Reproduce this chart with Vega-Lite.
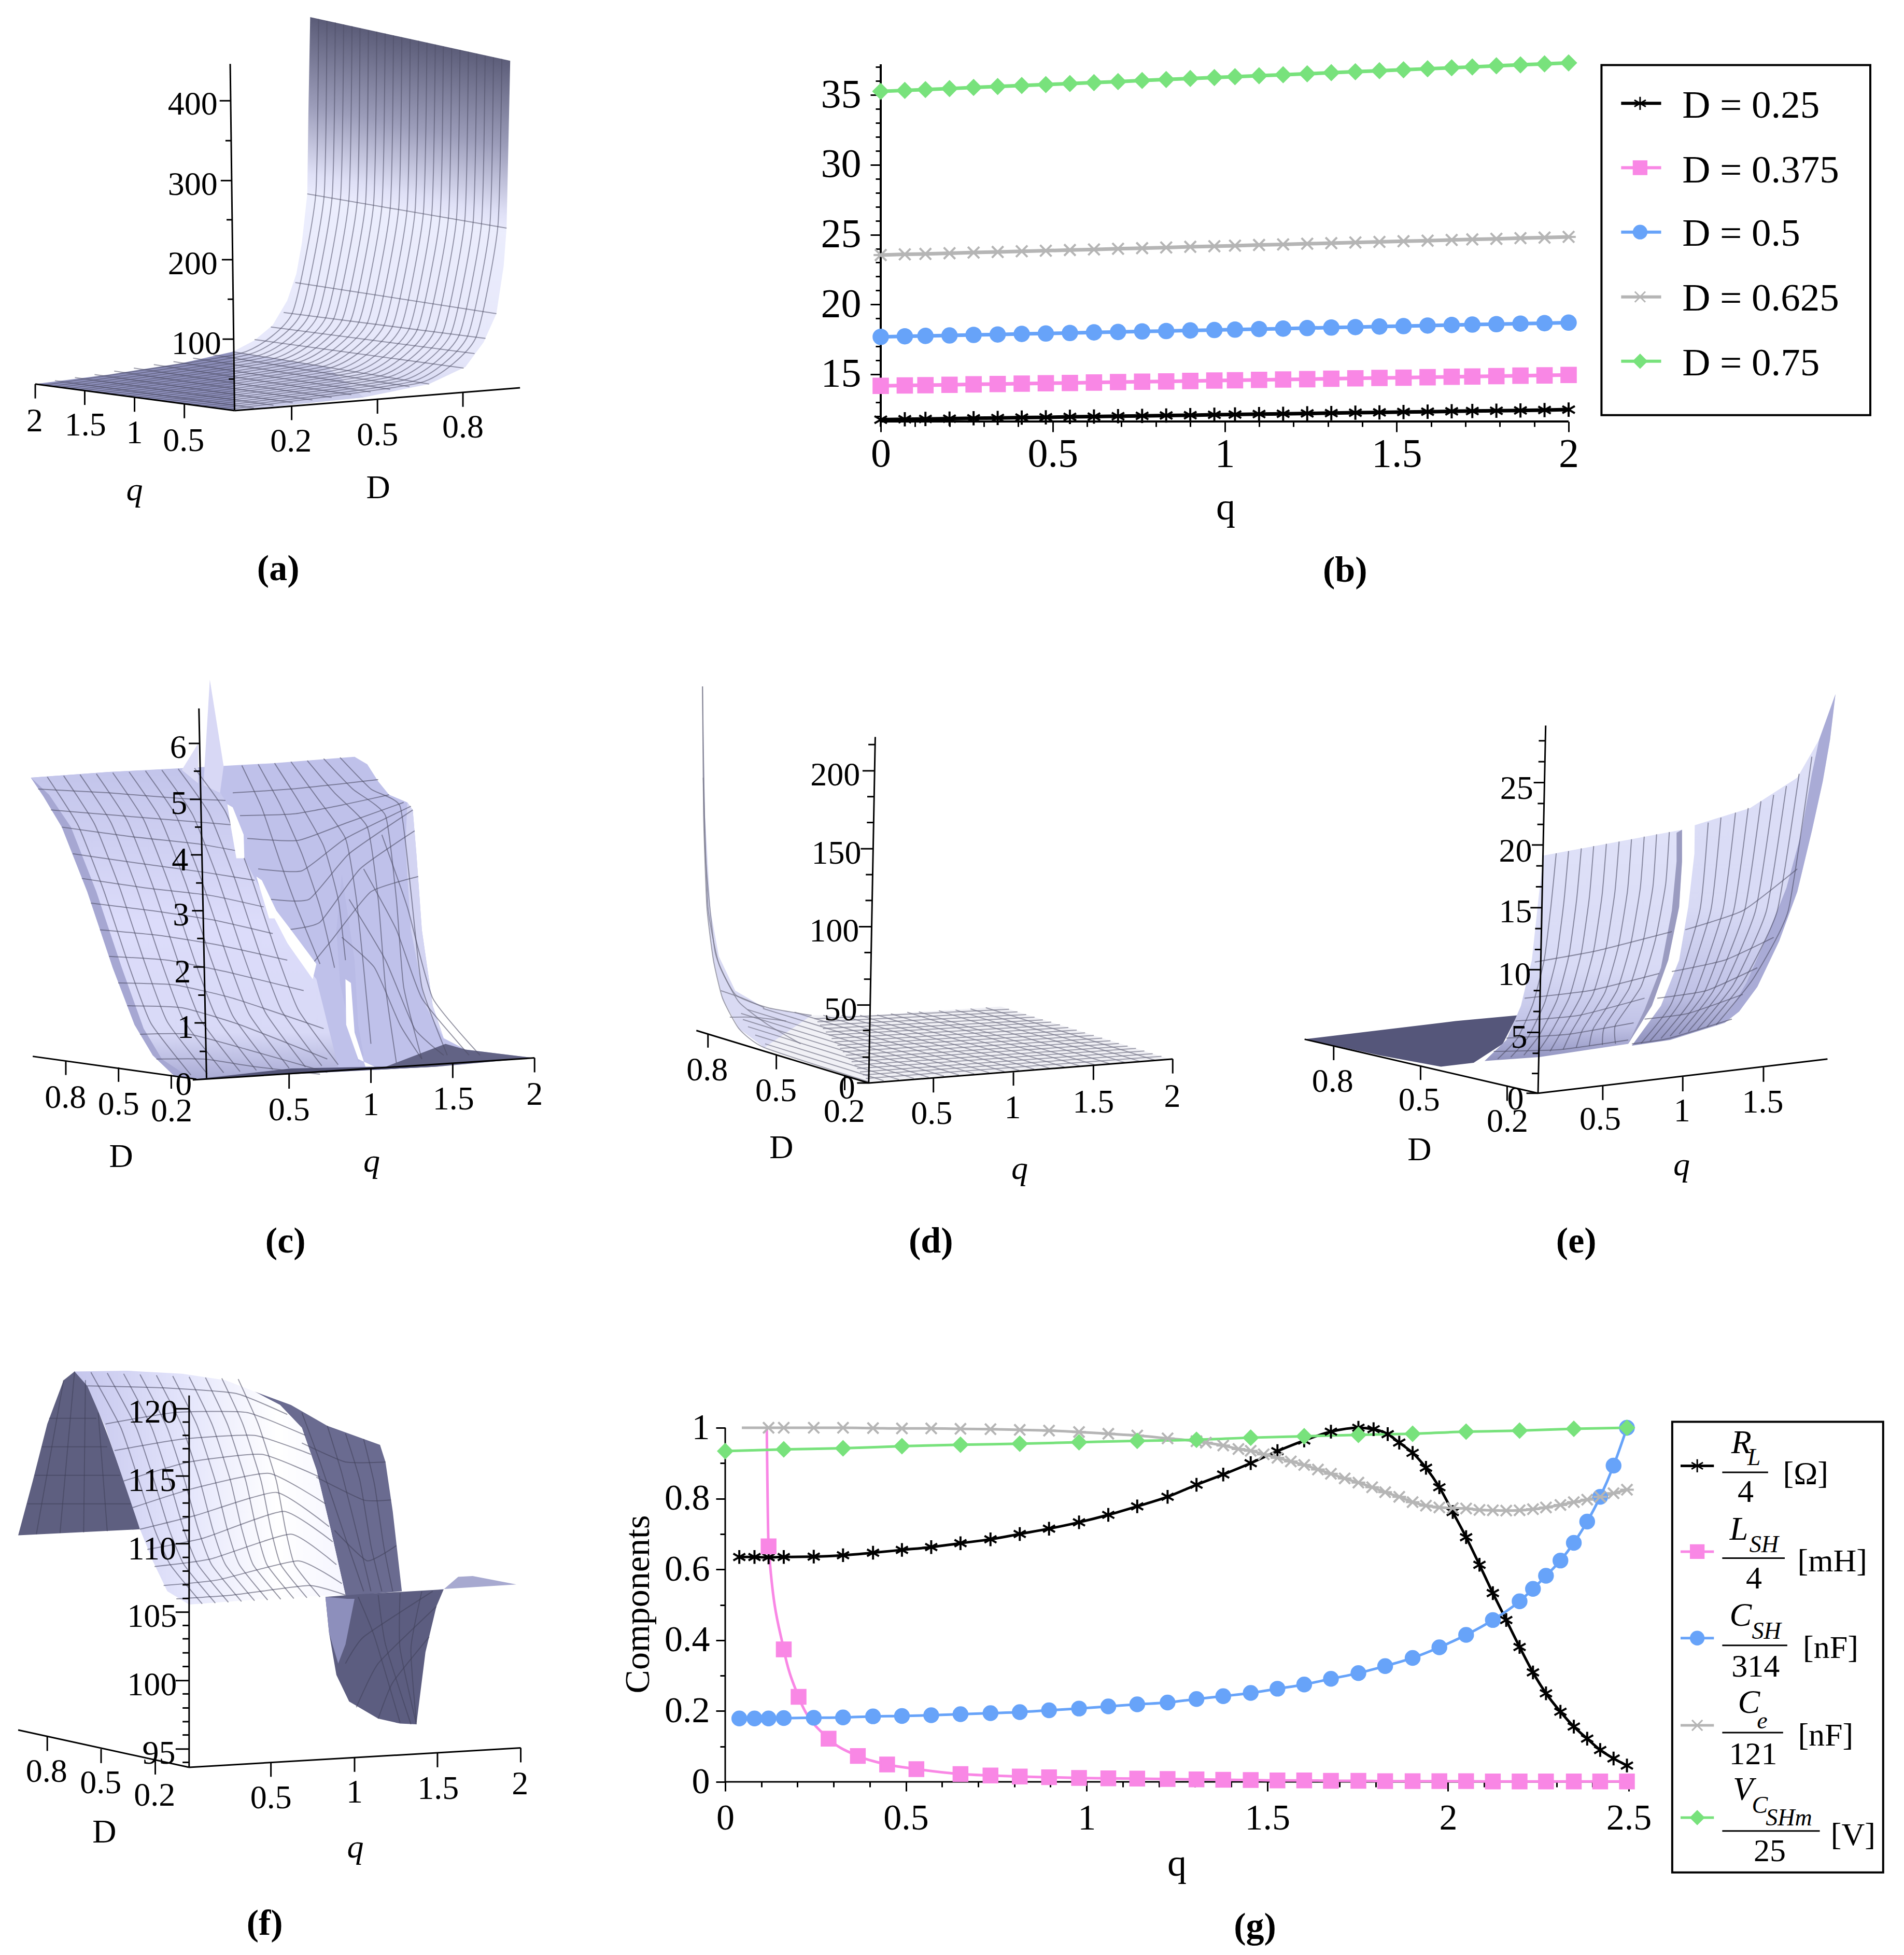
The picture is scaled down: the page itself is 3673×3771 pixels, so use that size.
{
"$schema":"https://vega.github.io/schema/vega-lite/v6.json",
"padding":0,"background":"white","columns":3,"spacing":0,"bounds":"flush","align":"none",
"config":{"font":"Liberation Serif","view":{"stroke":null},"text":{"baseline":"middle","align":"center","fontSize":64,"color":"black"}},
"resolve":{"scale":{"fill":"independent","stroke":"independent","shape":"independent"}},
"concat":[
{"width":1150,"height":1280,
"encoding":{"x":{"field":"h","type":"quantitative","scale":{"domain":[0,1639.3]},"axis":null},"y":{"field":"v","type":"quantitative","scale":{"domain":[1745.3,0]},"axis":null}},
"layer":[
{"data":{"values":[{"h":845,"v":510},{"h":1393,"v":600},{"h":1385,"v":700},{"h":1365,"v":825},{"h":1330,"v":900},{"h":1280,"v":965},{"h":1180,"v":1010},{"h":1000,"v":1045},{"h":800,"v":1065},{"h":645,"v":1080},{"h":640,"v":925},{"h":700,"v":895},{"h":750,"v":855},{"h":790,"v":790},{"h":815,"v":720},{"h":830,"v":640}]},
"mark":{"type":"line","strokeWidth":0,"stroke":"transparent","fill":{"gradient":"linear","x1":0,"y1":0,"x2":0,"y2":1,"stops":[{"offset":0,"color":"#eceefd"},{"offset":0.75,"color":"#e6e7fa"},{"offset":1,"color":"#cfd1ee"}]}},"encoding":{"order":{"value":null}}},
{"data":{"values":[{"h":853,"v":45},{"h":1403,"v":160},{"h":1393,"v":600},{"h":845,"v":510},{"h":848,"v":300}]},
"mark":{"type":"line","strokeWidth":0,"stroke":"transparent","fill":{"gradient":"linear","x1":0,"y1":0,"x2":-0.16,"y2":0.81,"stops":[{"offset":0,"color":"#5b5c78"},{"offset":0.5,"color":"#9c9dba"},{"offset":0.88,"color":"#dfe0f6"},{"offset":1,"color":"#ebecfd"}]}},"encoding":{"order":{"value":null}}},
{"data":{"values":[{"p":"f1","h":97,"v":1010},{"p":"f1","h":300,"v":985},{"p":"f1","h":500,"v":955},{"p":"f1","h":640,"v":925},{"p":"f1","h":645,"v":1080},{"p":"f2","h":640,"v":925},{"p":"f2","h":900,"v":965},{"p":"f2","h":1000,"v":1045},{"p":"f2","h":800,"v":1065},{"p":"f2","h":645,"v":1080}]},
"mark":{"type":"line","strokeWidth":0,"stroke":"transparent"},"encoding":{"fill":{"field":"p","type":"nominal","scale":{"domain":["f1","f2"],"range":["#8e90bc","#c9cbe9"]},"legend":null},"order":{"value":null}}},
{"data":{"values":[
{"p":1,"h":876,"v":50},{"p":1,"h":868,"v":514},{"p":1,"h":803,"v":825},{"p":1,"h":663,"v":929},{"p":1,"h":120,"v":1013},
{"p":2,"h":899,"v":55},{"p":2,"h":891,"v":518},{"p":2,"h":826,"v":828},{"p":2,"h":685,"v":932},{"p":2,"h":143,"v":1016},
{"p":3,"h":922,"v":59},{"p":3,"h":913,"v":521},{"p":3,"h":849,"v":831},{"p":3,"h":708,"v":936},{"p":3,"h":165,"v":1019},
{"p":4,"h":945,"v":64},{"p":4,"h":936,"v":525},{"p":4,"h":872,"v":834},{"p":4,"h":730,"v":939},{"p":4,"h":188,"v":1022},
{"p":5,"h":968,"v":69},{"p":5,"h":959,"v":529},{"p":5,"h":895,"v":837},{"p":5,"h":753,"v":943},{"p":5,"h":211,"v":1025},
{"p":6,"h":990,"v":74},{"p":6,"h":982,"v":533},{"p":6,"h":917,"v":840},{"p":6,"h":775,"v":946},{"p":6,"h":234,"v":1027},
{"p":7,"h":1013,"v":79},{"p":7,"h":1005,"v":536},{"p":7,"h":940,"v":843},{"p":7,"h":798,"v":950},{"p":7,"h":257,"v":1030},
{"p":8,"h":1036,"v":83},{"p":8,"h":1027,"v":540},{"p":8,"h":963,"v":846},{"p":8,"h":820,"v":953},{"p":8,"h":279,"v":1033},
{"p":9,"h":1059,"v":88},{"p":9,"h":1050,"v":544},{"p":9,"h":986,"v":849},{"p":9,"h":843,"v":957},{"p":9,"h":302,"v":1036},
{"p":10,"h":1082,"v":93},{"p":10,"h":1073,"v":548},{"p":10,"h":1009,"v":852},{"p":10,"h":865,"v":960},{"p":10,"h":325,"v":1039},
{"p":11,"h":1105,"v":98},{"p":11,"h":1096,"v":551},{"p":11,"h":1032,"v":855},{"p":11,"h":888,"v":964},{"p":11,"h":348,"v":1042},
{"p":12,"h":1128,"v":103},{"p":12,"h":1119,"v":555},{"p":12,"h":1055,"v":858},{"p":12,"h":910,"v":967},{"p":12,"h":371,"v":1045},
{"p":13,"h":1151,"v":107},{"p":13,"h":1141,"v":559},{"p":13,"h":1078,"v":861},{"p":13,"h":933,"v":971},{"p":13,"h":393,"v":1048},
{"p":14,"h":1174,"v":112},{"p":14,"h":1164,"v":563},{"p":14,"h":1101,"v":864},{"p":14,"h":955,"v":975},{"p":14,"h":416,"v":1051},
{"p":15,"h":1197,"v":117},{"p":15,"h":1187,"v":566},{"p":15,"h":1124,"v":867},{"p":15,"h":978,"v":978},{"p":15,"h":439,"v":1054},
{"p":16,"h":1219,"v":122},{"p":16,"h":1210,"v":570},{"p":16,"h":1146,"v":870},{"p":16,"h":1000,"v":982},{"p":16,"h":462,"v":1056},
{"p":17,"h":1242,"v":127},{"p":17,"h":1233,"v":574},{"p":17,"h":1169,"v":873},{"p":17,"h":1023,"v":985},{"p":17,"h":485,"v":1059},
{"p":18,"h":1265,"v":131},{"p":18,"h":1255,"v":578},{"p":18,"h":1192,"v":876},{"p":18,"h":1045,"v":989},{"p":18,"h":507,"v":1062},
{"p":19,"h":1288,"v":136},{"p":19,"h":1278,"v":581},{"p":19,"h":1215,"v":879},{"p":19,"h":1068,"v":992},{"p":19,"h":530,"v":1065},
{"p":20,"h":1311,"v":141},{"p":20,"h":1301,"v":585},{"p":20,"h":1238,"v":882},{"p":20,"h":1090,"v":996},{"p":20,"h":553,"v":1068},
{"p":21,"h":1334,"v":146},{"p":21,"h":1324,"v":589},{"p":21,"h":1261,"v":885},{"p":21,"h":1113,"v":999},{"p":21,"h":576,"v":1071},
{"p":22,"h":1357,"v":151},{"p":22,"h":1347,"v":593},{"p":22,"h":1284,"v":888},{"p":22,"h":1135,"v":1003},{"p":22,"h":599,"v":1074},
{"p":23,"h":1380,"v":155},{"p":23,"h":1369,"v":596},{"p":23,"h":1307,"v":891},{"p":23,"h":1158,"v":1006},{"p":23,"h":621,"v":1077},
{"p":30,"h":845,"v":510},{"p":30,"h":1393,"v":600},{"p":31,"h":812,"v":743},{"p":31,"h":1365,"v":825},{"p":32,"h":780,"v":822},{"p":32,"h":1335,"v":890},{"p":33,"h":745,"v":860},{"p":33,"h":1305,"v":930},{"p":34,"h":700,"v":893},{"p":34,"h":1275,"v":968},{"p":35,"h":640,"v":925},{"p":35,"h":1180,"v":1010},
{"p":36,"h":151,"v":1001},{"p":36,"h":698,"v":1073},{"p":37,"h":206,"v":993},{"p":37,"h":752,"v":1066},{"p":38,"h":260,"v":985},{"p":38,"h":805,"v":1059},{"p":39,"h":314,"v":976},{"p":39,"h":859,"v":1052},{"p":40,"h":368,"v":968},{"p":40,"h":912,"v":1045},{"p":41,"h":423,"v":959},{"p":41,"h":966,"v":1038},{"p":42,"h":477,"v":951},{"p":42,"h":1019,"v":1031},{"p":43,"h":531,"v":942},{"p":43,"h":1073,"v":1024},{"p":44,"h":586,"v":933},{"p":44,"h":1126,"v":1017}
]},"mark":{"type":"line","stroke":"#4f4f66","strokeWidth":2,"opacity":0.55,"interpolate":"cardinal","tension":0.5},"encoding":{"detail":{"field":"p","type":"nominal"},"order":{"value":null}}},
{"data":{"values":[{"h":633,"v":168,"h2":645,"v2":1080},{"h":634,"v":265,"h2":604,"v2":265},{"h":637,"v":475,"h2":607,"v2":475},{"h":640,"v":683,"h2":610,"v2":683},{"h":642,"v":892,"h2":612,"v2":892},{"h":635,"v":370,"h2":620,"v2":370},{"h":638,"v":578,"h2":623,"v2":578},{"h":641,"v":787,"h2":626,"v2":787},{"h":644,"v":997,"h2":629,"v2":997},{"h":97,"v":1010,"h2":645,"v2":1080},{"h":97,"v":1010,"h2":97,"v2":1048},{"h":233,"v":1028,"h2":233,"v2":1065},{"h":370,"v":1045,"h2":370,"v2":1083},{"h":507,"v":1063,"h2":507,"v2":1100},{"h":645,"v":1080,"h2":1430,"v2":1020},{"h":802,"v":1068,"h2":802,"v2":1105},{"h":1038,"v":1050,"h2":1038,"v2":1088},{"h":1273,"v":1032,"h2":1273,"v2":1070}]},
"mark":{"type":"rule","color":"black","strokeWidth":3},"encoding":{"x2":{"field":"h2"},"y2":{"field":"v2"}}},
{"data":{"values":[{"t":"400","h":530,"v":275},{"t":"300","h":530,"v":487},{"t":"200","h":530,"v":695},{"t":"100","h":540,"v":905},{"t":"2","h":95,"v":1108},{"t":"1.5","h":235,"v":1120},{"t":"1","h":370,"v":1140},{"t":"0.5","h":505,"v":1160},{"t":"0.2","h":800,"v":1162},{"t":"0.5","h":1038,"v":1145},{"t":"0.8","h":1273,"v":1125},{"t":"D","h":1040,"v":1285}]},"mark":{"type":"text"},"encoding":{"text":{"field":"t"}}},
{"data":{"values":[{"t":"q","h":370,"v":1290}]},"mark":{"type":"text","fontStyle":"italic"},"encoding":{"text":{"field":"t"}}},
{"data":{"values":[{"t":"(a)","h":765,"v":1497}]},"mark":{"type":"text","fontWeight":"bold","fontSize":70},"encoding":{"text":{"field":"t"}}}
]},
{"width":2100,"height":1280,
"encoding":{"x":{"field":"q","type":"quantitative","scale":{"domain":[-0.82743,2.3376]},"axis":{"title":"q","orient":"bottom","offset":-467,"domain":false,"grid":false,"values":[0,0.1,0.2,0.3,0.4,0.5,0.6,0.7,0.8,0.9,1,1.1,1.2,1.3,1.4,1.5,1.6,1.7,1.8,1.9,2],"labelExpr":"abs(datum.value*2-round(datum.value*2))<0.001 ? ''+datum.value : ''","tickSize":{"condition":{"test":"abs(datum.value*2-round(datum.value*2))<0.001","value":20},"value":10},"tickColor":"black","tickWidth":3,"labelColor":"black","labelFontSize":78,"labelPadding":4,"labelOverlap":false,"labelFlush":false,"labelBound":false,"titleFontSize":74,"titleFontWeight":"normal","titleColor":"black","titleX":1214,"titleY":130}},
"y":{"field":"v","type":"quantitative","scale":{"domain":[-5.718,41.804]},"axis":{"title":null,"orient":"left","offset":-549,"domain":false,"grid":false,"values":[12,13,14,15,16,17,18,19,20,21,22,23,24,25,26,27,28,29,30,31,32,33,34,35,36,37],"labelExpr":"datum.value%5==0 ? ''+datum.value : ''","tickSize":{"condition":{"test":"datum.value%5==0","value":20},"value":10},"tickColor":"black","tickWidth":3,"labelColor":"black","labelFontSize":78,"labelPadding":18,"labelOverlap":false,"labelBound":false}}},
"layer":[
{"data":{"values":[{"q":0,"v":11.62,"q2":2,"v2":11.62},{"q":0,"v":11.62,"q2":0,"v2":37.2}]},"mark":{"type":"rule","color":"black","strokeWidth":4},"encoding":{"x2":{"field":"q2"},"y2":{"field":"v2"}}},
{"data":{"name":"bdata","values":[
{"D":0.25,"q":0,"v":11.75},{"D":0.25,"q":0.07,"v":11.78},{"D":0.25,"q":0.13,"v":11.8},{"D":0.25,"q":0.2,"v":11.82},{"D":0.25,"q":0.27,"v":11.85},{"D":0.25,"q":0.34,"v":11.87},{"D":0.25,"q":0.41,"v":11.9},{"D":0.25,"q":0.48,"v":11.92},{"D":0.25,"q":0.55,"v":11.95},{"D":0.25,"q":0.62,"v":11.97},{"D":0.25,"q":0.69,"v":12},{"D":0.25,"q":0.76,"v":12.02},{"D":0.25,"q":0.83,"v":12.05},{"D":0.25,"q":0.9,"v":12.07},{"D":0.25,"q":0.97,"v":12.1},{"D":0.25,"q":1.03,"v":12.12},{"D":0.25,"q":1.1,"v":12.15},{"D":0.25,"q":1.17,"v":12.17},{"D":0.25,"q":1.24,"v":12.2},{"D":0.25,"q":1.31,"v":12.22},{"D":0.25,"q":1.38,"v":12.25},{"D":0.25,"q":1.45,"v":12.27},{"D":0.25,"q":1.52,"v":12.3},{"D":0.25,"q":1.59,"v":12.32},{"D":0.25,"q":1.66,"v":12.35},{"D":0.25,"q":1.72,"v":12.37},{"D":0.25,"q":1.79,"v":12.39},{"D":0.25,"q":1.86,"v":12.41},{"D":0.25,"q":1.93,"v":12.44},{"D":0.25,"q":2,"v":12.47},
{"D":0.375,"q":0,"v":14.17},{"D":0.375,"q":0.07,"v":14.2},{"D":0.375,"q":0.13,"v":14.22},{"D":0.375,"q":0.2,"v":14.25},{"D":0.375,"q":0.27,"v":14.28},{"D":0.375,"q":0.34,"v":14.3},{"D":0.375,"q":0.41,"v":14.33},{"D":0.375,"q":0.48,"v":14.36},{"D":0.375,"q":0.55,"v":14.38},{"D":0.375,"q":0.62,"v":14.41},{"D":0.375,"q":0.69,"v":14.44},{"D":0.375,"q":0.76,"v":14.47},{"D":0.375,"q":0.83,"v":14.49},{"D":0.375,"q":0.9,"v":14.52},{"D":0.375,"q":0.97,"v":14.55},{"D":0.375,"q":1.03,"v":14.57},{"D":0.375,"q":1.1,"v":14.6},{"D":0.375,"q":1.17,"v":14.63},{"D":0.375,"q":1.24,"v":14.65},{"D":0.375,"q":1.31,"v":14.68},{"D":0.375,"q":1.38,"v":14.71},{"D":0.375,"q":1.45,"v":14.74},{"D":0.375,"q":1.52,"v":14.76},{"D":0.375,"q":1.59,"v":14.79},{"D":0.375,"q":1.66,"v":14.82},{"D":0.375,"q":1.72,"v":14.84},{"D":0.375,"q":1.79,"v":14.87},{"D":0.375,"q":1.86,"v":14.9},{"D":0.375,"q":1.93,"v":14.92},{"D":0.375,"q":2,"v":14.95},
{"D":0.5,"q":0,"v":17.68},{"D":0.5,"q":0.07,"v":17.72},{"D":0.5,"q":0.13,"v":17.75},{"D":0.5,"q":0.2,"v":17.78},{"D":0.5,"q":0.27,"v":17.82},{"D":0.5,"q":0.34,"v":17.85},{"D":0.5,"q":0.41,"v":17.89},{"D":0.5,"q":0.48,"v":17.92},{"D":0.5,"q":0.55,"v":17.96},{"D":0.5,"q":0.62,"v":18},{"D":0.5,"q":0.69,"v":18.03},{"D":0.5,"q":0.76,"v":18.07},{"D":0.5,"q":0.83,"v":18.1},{"D":0.5,"q":0.9,"v":18.14},{"D":0.5,"q":0.97,"v":18.17},{"D":0.5,"q":1.03,"v":18.2},{"D":0.5,"q":1.1,"v":18.24},{"D":0.5,"q":1.17,"v":18.27},{"D":0.5,"q":1.24,"v":18.31},{"D":0.5,"q":1.31,"v":18.35},{"D":0.5,"q":1.38,"v":18.38},{"D":0.5,"q":1.45,"v":18.42},{"D":0.5,"q":1.52,"v":18.45},{"D":0.5,"q":1.59,"v":18.49},{"D":0.5,"q":1.66,"v":18.53},{"D":0.5,"q":1.72,"v":18.56},{"D":0.5,"q":1.79,"v":18.59},{"D":0.5,"q":1.86,"v":18.63},{"D":0.5,"q":1.93,"v":18.66},{"D":0.5,"q":2,"v":18.7},
{"D":0.625,"q":0,"v":23.54},{"D":0.625,"q":0.07,"v":23.59},{"D":0.625,"q":0.13,"v":23.62},{"D":0.625,"q":0.2,"v":23.67},{"D":0.625,"q":0.27,"v":23.72},{"D":0.625,"q":0.34,"v":23.76},{"D":0.625,"q":0.41,"v":23.81},{"D":0.625,"q":0.48,"v":23.85},{"D":0.625,"q":0.55,"v":23.9},{"D":0.625,"q":0.62,"v":23.94},{"D":0.625,"q":0.69,"v":23.99},{"D":0.625,"q":0.76,"v":24.03},{"D":0.625,"q":0.83,"v":24.08},{"D":0.625,"q":0.9,"v":24.13},{"D":0.625,"q":0.97,"v":24.17},{"D":0.625,"q":1.03,"v":24.21},{"D":0.625,"q":1.1,"v":24.26},{"D":0.625,"q":1.17,"v":24.3},{"D":0.625,"q":1.24,"v":24.35},{"D":0.625,"q":1.31,"v":24.39},{"D":0.625,"q":1.38,"v":24.44},{"D":0.625,"q":1.45,"v":24.48},{"D":0.625,"q":1.52,"v":24.53},{"D":0.625,"q":1.59,"v":24.57},{"D":0.625,"q":1.66,"v":24.62},{"D":0.625,"q":1.72,"v":24.66},{"D":0.625,"q":1.79,"v":24.7},{"D":0.625,"q":1.86,"v":24.75},{"D":0.625,"q":1.93,"v":24.79},{"D":0.625,"q":2,"v":24.84},
{"D":0.75,"q":0,"v":35.26},{"D":0.75,"q":0.07,"v":35.33},{"D":0.75,"q":0.13,"v":35.39},{"D":0.75,"q":0.2,"v":35.46},{"D":0.75,"q":0.27,"v":35.54},{"D":0.75,"q":0.34,"v":35.61},{"D":0.75,"q":0.41,"v":35.68},{"D":0.75,"q":0.48,"v":35.75},{"D":0.75,"q":0.55,"v":35.82},{"D":0.75,"q":0.62,"v":35.89},{"D":0.75,"q":0.69,"v":35.96},{"D":0.75,"q":0.76,"v":36.04},{"D":0.75,"q":0.83,"v":36.11},{"D":0.75,"q":0.9,"v":36.18},{"D":0.75,"q":0.97,"v":36.25},{"D":0.75,"q":1.03,"v":36.31},{"D":0.75,"q":1.1,"v":36.38},{"D":0.75,"q":1.17,"v":36.45},{"D":0.75,"q":1.24,"v":36.52},{"D":0.75,"q":1.31,"v":36.6},{"D":0.75,"q":1.38,"v":36.67},{"D":0.75,"q":1.45,"v":36.74},{"D":0.75,"q":1.52,"v":36.81},{"D":0.75,"q":1.59,"v":36.88},{"D":0.75,"q":1.66,"v":36.95},{"D":0.75,"q":1.72,"v":37.01},{"D":0.75,"q":1.79,"v":37.09},{"D":0.75,"q":1.86,"v":37.16},{"D":0.75,"q":1.93,"v":37.23},{"D":0.75,"q":2,"v":37.3}
]},"mark":{"type":"line","strokeWidth":7},"encoding":{"stroke":{"field":"D","type":"nominal","scale":{"domain":[0.25,0.375,0.5,0.625,0.75],"range":["#000000","#f987e5","#67a3f9","#b5b5b5","#78e27c"]},"legend":null}}},
{"data":{"name":"bdata"},"mark":{"type":"point","filled":true,"size":760,"strokeWidth":4,"opacity":1},"encoding":{"fill":{"field":"D","type":"nominal","scale":{"domain":[0.25,0.375,0.5,0.625,0.75],"range":["#000000","#f987e5","#67a3f9","#b5b5b5","#78e27c"]},"legend":null},"stroke":{"field":"D","type":"nominal","scale":{"domain":[0.25,0.375,0.5,0.625,0.75],"range":["#000000","#f987e5","#67a3f9","#b5b5b5","#78e27c"]},"legend":null},"shape":{"field":"D","type":"nominal","scale":{"domain":[0.25,0.375,0.5,0.625,0.75],"range":["M0,-1L0,1M-0.87,-0.5L0.87,0.5M-0.87,0.5L0.87,-0.5","square","circle","M-0.8,-0.8L0.8,0.8M-0.8,0.8L0.8,-0.8M-1,0L1,0","diamond"]},"legend":null}}},
{"data":{"values":[{"t":"(b)","q":1.35,"v":0.93}]},"mark":{"type":"text","fontWeight":"bold","fontSize":70},"encoding":{"text":{"field":"t"}}}
]},
{"width":423,"height":1280,
"encoding":{"x":{"field":"h","type":"quantitative","scale":{"domain":[1255.6,1568]},"axis":null},"y":{"field":"v","type":"quantitative","scale":{"domain":[1753,-71]},"axis":null}},
"layer":[
{"data":{"values":[{"h":1137,"h2":1520,"v":108,"v2":1070}]},"mark":{"type":"rect","fill":"white","stroke":"black","strokeWidth":4},"encoding":{"x2":{"field":"h2"},"y2":{"field":"v2"}}},
{"data":{"values":[{"D":0.25,"h":1165,"h2":1222,"v":213},{"D":0.375,"h":1165,"h2":1222,"v":390},{"D":0.5,"h":1165,"h2":1222,"v":567},{"D":0.625,"h":1165,"h2":1222,"v":745},{"D":0.75,"h":1165,"h2":1222,"v":922}]},"mark":{"type":"rule","strokeWidth":6},"encoding":{"x2":{"field":"h2"},"stroke":{"field":"D","type":"nominal","scale":{"domain":[0.25,0.375,0.5,0.625,0.75],"range":["#000000","#f987e5","#67a3f9","#b5b5b5","#78e27c"]},"legend":null}}},
{"data":{"values":[{"D":0.25,"h":1192,"v":213},{"D":0.375,"h":1192,"v":390},{"D":0.5,"h":1192,"v":567},{"D":0.625,"h":1192,"v":745},{"D":0.75,"h":1192,"v":922}]},"mark":{"type":"point","filled":true,"size":640,"strokeWidth":3,"opacity":1},"encoding":{"fill":{"field":"D","type":"nominal","scale":{"domain":[0.25,0.375,0.5,0.625,0.75],"range":["#000000","#f987e5","#67a3f9","#b5b5b5","#78e27c"]},"legend":null},"stroke":{"field":"D","type":"nominal","scale":{"domain":[0.25,0.375,0.5,0.625,0.75],"range":["#000000","#f987e5","#67a3f9","#b5b5b5","#78e27c"]},"legend":null},"shape":{"field":"D","type":"nominal","scale":{"domain":[0.25,0.375,0.5,0.625,0.75],"range":["M0,-1L0,1M-0.87,-0.5L0.87,0.5M-0.87,0.5L0.87,-0.5","square","circle","M-0.8,-0.8L0.8,0.8M-0.8,0.8L0.8,-0.8M-1,0L1,0","diamond"]},"legend":null}}},
{"data":{"values":[{"t":"D = 0.25","h":1252,"v":220},{"t":"D = 0.375","h":1252,"v":398},{"t":"D = 0.5","h":1252,"v":572},{"t":"D = 0.625","h":1252,"v":750},{"t":"D = 0.75","h":1252,"v":928}]},"mark":{"type":"text","align":"left","fontSize":75},"encoding":{"text":{"field":"t"}}}
]},
{"width":1150,"height":1320,
"encoding":{"x":{"field":"h","type":"quantitative","scale":{"domain":[0,1639.3]},"axis":null},"y":{"field":"v","type":"quantitative","scale":{"domain":[1799.8,0]},"axis":null}},
"layer":[
{"data":{"values":[
{"p":"b","h":85,"v":300},{"p":"b","h":300,"v":285},{"p":"b","h":500,"v":275},{"p":"b","h":750,"v":262},{"p":"b","h":975,"v":245},{"p":"b","h":1010,"v":265},{"p":"b","h":1040,"v":310},{"p":"b","h":1070,"v":345},{"p":"b","h":1120,"v":365},{"p":"b","h":1135,"v":385},{"p":"b","h":1145,"v":500},{"p":"b","h":1160,"v":700},{"p":"b","h":1190,"v":900},{"p":"b","h":1220,"v":985},{"p":"b","h":1280,"v":1015},{"p":"b","h":1465,"v":1037},{"p":"b","h":1200,"v":1060},{"p":"b","h":800,"v":1080},{"p":"b","h":540,"v":1093},{"p":"b","h":480,"v":1085},{"p":"b","h":420,"v":1030},{"p":"b","h":370,"v":950},{"p":"b","h":310,"v":800},{"p":"b","h":240,"v":600},{"p":"b","h":170,"v":430},{"p":"b","h":120,"v":350}
]},"mark":{"type":"line","strokeWidth":0,"stroke":"transparent","fill":"#bfc1ea"},"encoding":{"order":{"value":null}}},
{"data":{"values":[
{"h":85,"v":300},{"h":300,"v":285},{"h":520,"v":275},{"h":600,"v":330},{"h":625,"v":370},{"h":670,"v":510},{"h":720,"v":600},{"h":790,"v":735},{"h":870,"v":830},{"h":930,"v":1060},{"h":540,"v":1093},{"h":480,"v":1085},{"h":420,"v":1030},{"h":370,"v":950},{"h":310,"v":800},{"h":240,"v":600},{"h":170,"v":430},{"h":120,"v":350}
]},"mark":{"type":"line","strokeWidth":0,"stroke":"transparent","fill":{"gradient":"linear","x1":0,"y1":0,"x2":0,"y2":1,"stops":[{"offset":0,"color":"#c2c4ea"},{"offset":0.5,"color":"#dcdcfa"},{"offset":0.85,"color":"#d8d9f6"},{"offset":1,"color":"#a9abd4"}]}},"encoding":{"order":{"value":null}}},
{"data":{"values":[
{"p":"s","h":85,"v":300},{"p":"s","h":120,"v":350},{"p":"s","h":170,"v":430},{"p":"s","h":240,"v":600},{"p":"s","h":310,"v":800},{"p":"s","h":370,"v":950},{"p":"s","h":420,"v":1030},{"p":"s","h":480,"v":1085},{"p":"s","h":540,"v":1093},{"p":"s","h":500,"v":1075},{"p":"s","h":445,"v":1040},{"p":"s","h":395,"v":960},{"p":"s","h":335,"v":800},{"p":"s","h":265,"v":600},{"p":"s","h":195,"v":430},{"p":"s","h":135,"v":345},
{"p":"r","h":1135,"v":385},{"p":"r","h":1145,"v":500},{"p":"r","h":1160,"v":700},{"p":"r","h":1190,"v":900},{"p":"r","h":1220,"v":985},{"p":"r","h":1170,"v":900},{"p":"r","h":1130,"v":700},{"p":"r","h":1115,"v":480},{"p":"r","h":1120,"v":365},
{"p":"d","h":1225,"v":1000},{"p":"d","h":1280,"v":1015},{"p":"d","h":1465,"v":1037},{"p":"d","h":1200,"v":1060},{"p":"d","h":1040,"v":1068},
{"p":"l","h":540,"v":1093},{"p":"l","h":800,"v":1065},{"p":"l","h":1040,"v":1060},{"p":"l","h":1200,"v":1060},{"p":"l","h":800,"v":1080},
{"p":"k1","h":560,"v":310},{"p":"k1","h":577,"v":42},{"p":"k1","h":615,"v":270},{"p":"k1","h":605,"v":340},{"p":"k1","h":560,"v":320},
{"p":"k2","h":545,"v":210},{"p":"k2","h":500,"v":280},{"p":"k2","h":545,"v":315},
{"p":"k3","h":940,"v":555},{"p":"k3","h":975,"v":780},{"p":"k3","h":985,"v":950},{"p":"k3","h":1000,"v":1030},{"p":"k3","h":985,"v":1050},{"p":"k3","h":960,"v":950},{"p":"k3","h":935,"v":840},{"p":"k3","h":925,"v":700}
]},"mark":{"type":"line","strokeWidth":0,"stroke":"transparent"},"encoding":{"fill":{"field":"p","type":"nominal","scale":{"domain":["s","r","d","l","k1","k2","k3"],"range":["#a6a7d2","#d3d4f2","#626385","#555679","#d8d8f5","#dcdcf6","#b9bbe6"]},"legend":null},"order":{"value":null}}},
{"data":{"values":[
{"p":1,"h":130,"v":298},{"p":1,"h":215,"v":426},{"p":1,"h":285,"v":596},{"p":1,"h":355,"v":796},{"p":1,"h":415,"v":946},{"p":1,"h":525,"v":1082},
{"p":2,"h":175,"v":295},{"p":2,"h":260,"v":422},{"p":2,"h":330,"v":592},{"p":2,"h":400,"v":792},{"p":2,"h":460,"v":942},{"p":2,"h":570,"v":1079},
{"p":3,"h":220,"v":292},{"p":3,"h":305,"v":418},{"p":3,"h":375,"v":588},{"p":3,"h":445,"v":788},{"p":3,"h":505,"v":938},{"p":3,"h":615,"v":1076},
{"p":4,"h":265,"v":290},{"p":4,"h":350,"v":414},{"p":4,"h":420,"v":584},{"p":4,"h":490,"v":784},{"p":4,"h":550,"v":934},{"p":4,"h":660,"v":1073},
{"p":5,"h":310,"v":287},{"p":5,"h":395,"v":410},{"p":5,"h":465,"v":580},{"p":5,"h":535,"v":780},{"p":5,"h":595,"v":930},{"p":5,"h":705,"v":1070},
{"p":6,"h":355,"v":285},{"p":6,"h":440,"v":406},{"p":6,"h":510,"v":576},{"p":6,"h":580,"v":776},{"p":6,"h":640,"v":926},{"p":6,"h":750,"v":1067},
{"p":7,"h":400,"v":282},{"p":7,"h":485,"v":402},{"p":7,"h":555,"v":572},{"p":7,"h":625,"v":772},{"p":7,"h":685,"v":922},{"p":7,"h":795,"v":1064},
{"p":8,"h":445,"v":280},{"p":8,"h":530,"v":398},{"p":8,"h":600,"v":568},{"p":8,"h":670,"v":768},{"p":8,"h":730,"v":918},{"p":8,"h":840,"v":1061},
{"p":9,"h":490,"v":277},{"p":9,"h":575,"v":394},{"p":9,"h":645,"v":564},{"p":9,"h":715,"v":764},{"p":9,"h":775,"v":914},{"p":9,"h":885,"v":1058},
{"p":10,"h":535,"v":275},{"p":10,"h":620,"v":390},{"p":10,"h":690,"v":560},{"p":10,"h":760,"v":760},{"p":10,"h":820,"v":910},{"p":10,"h":930,"v":1055},
{"p":11,"h":105,"v":330},{"p":11,"h":300,"v":340},{"p":11,"h":500,"v":355},{"p":11,"h":620,"v":360},
{"p":12,"h":140,"v":385},{"p":12,"h":330,"v":400},{"p":12,"h":520,"v":415},{"p":12,"h":650,"v":425},
{"p":13,"h":170,"v":430},{"p":13,"h":360,"v":455},{"p":13,"h":550,"v":475},{"p":13,"h":665,"v":495},
{"p":14,"h":200,"v":500},{"p":14,"h":380,"v":525},{"p":14,"h":570,"v":550},{"p":14,"h":700,"v":570},
{"p":15,"h":225,"v":565},{"p":15,"h":400,"v":590},{"p":15,"h":580,"v":610},{"p":15,"h":725,"v":640},
{"p":16,"h":250,"v":630},{"p":16,"h":420,"v":650},{"p":16,"h":590,"v":675},{"p":16,"h":750,"v":710},
{"p":17,"h":275,"v":700},{"p":17,"h":440,"v":715},{"p":17,"h":600,"v":740},{"p":17,"h":790,"v":780},
{"p":18,"h":300,"v":770},{"p":18,"h":460,"v":780},{"p":18,"h":620,"v":810},{"p":18,"h":835,"v":860},
{"p":19,"h":325,"v":840},{"p":19,"h":480,"v":845},{"p":19,"h":640,"v":880},{"p":19,"h":890,"v":960},
{"p":20,"h":350,"v":900},{"p":20,"h":500,"v":905},{"p":20,"h":660,"v":950},{"p":20,"h":900,"v":1040},
{"p":21,"h":385,"v":975},{"p":21,"h":520,"v":975},{"p":21,"h":680,"v":1015},{"p":21,"h":900,"v":1075},
{"p":22,"h":430,"v":1040},{"p":22,"h":560,"v":1040},{"p":22,"h":700,"v":1060},{"p":22,"h":880,"v":1080},
{"p":23,"h":665,"v":268},{"p":23,"h":720,"v":380},{"p":23,"h":770,"v":520},{"p":23,"h":820,"v":650},{"p":23,"h":880,"v":790},
{"p":24,"h":710,"v":265},{"p":24,"h":770,"v":370},{"p":24,"h":830,"v":500},{"p":24,"h":880,"v":640},{"p":24,"h":920,"v":800},
{"p":25,"h":755,"v":262},{"p":25,"h":820,"v":360},{"p":25,"h":890,"v":480},{"p":25,"h":930,"v":620},{"p":25,"h":950,"v":780},
{"p":26,"h":800,"v":258},{"p":26,"h":870,"v":350},{"p":26,"h":950,"v":460},{"p":26,"h":980,"v":620},{"p":26,"h":1000,"v":800},{"p":26,"h":1020,"v":1000},
{"p":27,"h":845,"v":255},{"p":27,"h":920,"v":340},{"p":27,"h":1010,"v":430},{"p":27,"h":1040,"v":620},{"p":27,"h":1060,"v":850},{"p":27,"h":1090,"v":1050},
{"p":28,"h":890,"v":250},{"p":28,"h":970,"v":330},{"p":28,"h":1060,"v":400},{"p":28,"h":1090,"v":620},{"p":28,"h":1110,"v":850},{"p":28,"h":1160,"v":1040},
{"p":29,"h":935,"v":247},{"p":29,"h":1020,"v":330},{"p":29,"h":1100,"v":375},{"p":29,"h":1130,"v":600},{"p":29,"h":1160,"v":850},{"p":29,"h":1230,"v":1030},
{"p":30,"h":640,"v":340},{"p":30,"h":800,"v":330},{"p":30,"h":950,"v":315},{"p":30,"h":1040,"v":305},
{"p":31,"h":660,"v":400},{"p":31,"h":810,"v":395},{"p":31,"h":950,"v":370},{"p":31,"h":1070,"v":345},
{"p":32,"h":680,"v":460},{"p":32,"h":820,"v":465},{"p":32,"h":950,"v":420},{"p":32,"h":1110,"v":365},
{"p":33,"h":710,"v":540},{"p":33,"h":830,"v":545},{"p":33,"h":950,"v":460},{"p":33,"h":1130,"v":375},
{"p":34,"h":745,"v":620},{"p":34,"h":850,"v":620},{"p":34,"h":960,"v":500},{"p":34,"h":1135,"v":385},
{"p":35,"h":790,"v":700},{"p":35,"h":880,"v":680},{"p":35,"h":990,"v":540},{"p":35,"h":1140,"v":440},
{"p":36,"h":850,"v":800},{"p":36,"h":910,"v":730},{"p":36,"h":1020,"v":600},{"p":36,"h":1150,"v":560},
{"p":37,"h":940,"v":720},{"p":37,"h":1030,"v":800},{"p":37,"h":1100,"v":950},{"p":37,"h":1160,"v":1040},
{"p":38,"h":960,"v":620},{"p":38,"h":1060,"v":780},{"p":38,"h":1140,"v":960},{"p":38,"h":1220,"v":1030},
{"p":39,"h":1000,"v":540},{"p":39,"h":1090,"v":700},{"p":39,"h":1160,"v":880},{"p":39,"h":1290,"v":1030},
{"p":40,"h":1050,"v":450},{"p":40,"h":1120,"v":640},{"p":40,"h":1190,"v":880},{"p":40,"h":1320,"v":1030}
]},"mark":{"type":"line","stroke":"#4f4f66","strokeWidth":2,"opacity":0.6,"interpolate":"cardinal","tension":0.5},"encoding":{"detail":{"field":"p","type":"nominal"},"order":{"value":null}}},
{"data":{"values":[
{"p":"t1","h":625,"v":370},{"p":"t1","h":640,"v":378},{"p":"t1","h":670,"v":450},{"p":"t1","h":672,"v":512},{"p":"t1","h":650,"v":512},{"p":"t1","h":635,"v":430},
{"p":"t2","h":705,"v":560},{"p":"t2","h":740,"v":670},{"p":"t2","h":755,"v":670},{"p":"t2","h":790,"v":735},{"p":"t2","h":860,"v":830},{"p":"t2","h":870,"v":790},{"p":"t2","h":800,"v":700},{"p":"t2","h":760,"v":650},{"p":"t2","h":720,"v":570},
{"p":"t3","h":950,"v":830},{"p":"t3","h":952,"v":950},{"p":"t3","h":985,"v":1040},{"p":"t3","h":1030,"v":1060},{"p":"t3","h":1005,"v":1060},{"p":"t3","h":975,"v":970},{"p":"t3","h":965,"v":840}
]},"mark":{"type":"line","strokeWidth":0,"stroke":"transparent","fill":"white"},"encoding":{"detail":{"field":"p","type":"nominal"},"order":{"value":null}}},
{"data":{"values":[{"h":547,"v":118,"h2":568,"v2":1090},{"h":549,"v":210,"h2":519,"v2":210},{"h":552,"v":357,"h2":522,"v2":357},{"h":555,"v":503,"h2":525,"v2":503},{"h":558,"v":650,"h2":528,"v2":650},{"h":562,"v":798,"h2":532,"v2":798},{"h":565,"v":945,"h2":535,"v2":945},{"h":551,"v":283,"h2":533,"v2":283},{"h":554,"v":430,"h2":536,"v2":430},{"h":557,"v":577,"h2":539,"v2":577},{"h":560,"v":723,"h2":542,"v2":723},{"h":563,"v":872,"h2":545,"v2":872},{"h":567,"v":1020,"h2":549,"v2":1020},{"h":90,"v":1033,"h2":540,"v2":1093},{"h":181,"v":1045,"h2":181,"v2":1082},{"h":326,"v":1062,"h2":326,"v2":1100},{"h":471,"v":1082,"h2":471,"v2":1118},{"h":530,"v":1095,"h2":1470,"v2":1037},{"h":795,"v":1080,"h2":795,"v2":1118},{"h":1020,"v":1065,"h2":1020,"v2":1103},{"h":1245,"v":1052,"h2":1245,"v2":1090},{"h":1470,"v":1037,"h2":1470,"v2":1075}]},
"mark":{"type":"rule","color":"black","strokeWidth":3},"encoding":{"x2":{"field":"h2"},"y2":{"field":"v2"}}},
{"data":{"values":[{"t":"6","h":490,"v":222},{"t":"5","h":492,"v":370},{"t":"4","h":495,"v":518},{"t":"3","h":498,"v":662},{"t":"2","h":502,"v":812},{"t":"1","h":510,"v":958},{"t":"0","h":505,"v":1108},{"t":"0.8","h":180,"v":1142},{"t":"0.5","h":326,"v":1160},{"t":"0.2","h":472,"v":1178},{"t":"0.5","h":795,"v":1175},{"t":"1","h":1020,"v":1162},{"t":"1.5","h":1247,"v":1147},{"t":"2","h":1470,"v":1135},{"t":"D","h":333,"v":1298}]},"mark":{"type":"text"},"encoding":{"text":{"field":"t"}}},
{"data":{"values":[{"t":"q","h":1022,"v":1310}]},"mark":{"type":"text","fontStyle":"italic"},"encoding":{"text":{"field":"t"}}},
{"data":{"values":[{"t":"(c)","h":785,"v":1520}]},"mark":{"type":"text","fontWeight":"bold","fontSize":70},"encoding":{"text":{"field":"t"}}}
]},
{"width":2100,"height":1320,
"encoding":{"x":{"field":"h","type":"quantitative","scale":{"domain":[-142.55,2851]},"axis":null},"y":{"field":"v","type":"quantitative","scale":{"domain":[1799.8,0]},"axis":null}},
"layer":[
{"data":{"values":[
{"p":"f","h":450,"v":925},{"p":"f","h":610,"v":925},{"p":"f","h":970,"v":902},{"p":"f","h":1435,"v":1040},{"p":"f","h":607,"v":1100},{"p":"f","h":320,"v":1010},
{"p":"w","h":150,"v":60},{"p":"w","h":157,"v":400},{"p":"w","h":172,"v":650},{"p":"w","h":195,"v":770},{"p":"w","h":240,"v":860},{"p":"w","h":320,"v":905},{"p":"w","h":450,"v":925},{"p":"w","h":320,"v":1010},{"p":"w","h":250,"v":960},{"p":"w","h":205,"v":880},{"p":"w","h":180,"v":780},{"p":"w","h":162,"v":640},{"p":"w","h":153,"v":400}
]},"mark":{"type":"line","strokeWidth":0,"stroke":"transparent"},"encoding":{"fill":{"field":"p","type":"nominal","scale":{"domain":["f","w"],"range":["#f1f1f6","#d9daf3"]},"legend":null},"order":{"value":null}}},
{"data":{"values":[
{"p":1,"h":648,"v":1097},{"p":1,"h":322,"v":1000},{"p":2,"h":690,"v":1094},{"p":2,"h":295,"v":977},{"p":3,"h":731,"v":1091},{"p":3,"h":275,"v":955},{"p":4,"h":772,"v":1088},{"p":4,"h":261,"v":936},{"p":5,"h":814,"v":1085},{"p":5,"h":256,"v":920},{"p":6,"h":855,"v":1082},{"p":6,"h":274,"v":910},{"p":7,"h":897,"v":1079},{"p":7,"h":316,"v":907},{"p":8,"h":938,"v":1076},{"p":8,"h":403,"v":917},{"p":9,"h":980,"v":1073},{"p":9,"h":482,"v":925},{"p":10,"h":1021,"v":1070},{"p":10,"h":533,"v":925},{"p":11,"h":1062,"v":1067},{"p":11,"h":583,"v":925},{"p":12,"h":1104,"v":1064},{"p":12,"h":630,"v":924},{"p":13,"h":1145,"v":1061},{"p":13,"h":668,"v":921},{"p":14,"h":1187,"v":1058},{"p":14,"h":713,"v":917},{"p":15,"h":1228,"v":1055},{"p":15,"h":745,"v":916},{"p":16,"h":1269,"v":1052},{"p":16,"h":800,"v":913},{"p":17,"h":1311,"v":1049},{"p":17,"h":846,"v":911},{"p":18,"h":1352,"v":1046},{"p":18,"h":887,"v":908},{"p":19,"h":1394,"v":1043},{"p":19,"h":929,"v":905},
{"p":21,"h":1412,"v":1033},{"p":21,"h":599,"v":1091},{"p":22,"h":1388,"v":1026},{"p":22,"h":591,"v":1082},{"p":23,"h":1365,"v":1019},{"p":23,"h":583,"v":1074},{"p":24,"h":1342,"v":1012},{"p":24,"h":575,"v":1065},{"p":25,"h":1319,"v":1006},{"p":25,"h":568,"v":1056},{"p":26,"h":1295,"v":999},{"p":26,"h":560,"v":1047},{"p":27,"h":1272,"v":992},{"p":27,"h":552,"v":1039},{"p":28,"h":1249,"v":985},{"p":28,"h":544,"v":1030},{"p":29,"h":1226,"v":978},{"p":29,"h":536,"v":1021},{"p":30,"h":1202,"v":971},{"p":30,"h":528,"v":1012},{"p":31,"h":1179,"v":964},{"p":31,"h":521,"v":1004},{"p":32,"h":1156,"v":957},{"p":32,"h":513,"v":995},{"p":33,"h":1133,"v":950},{"p":33,"h":505,"v":986},{"p":34,"h":1109,"v":943},{"p":34,"h":497,"v":977},{"p":35,"h":1086,"v":937},{"p":35,"h":489,"v":969},{"p":36,"h":1063,"v":930},{"p":36,"h":481,"v":960},{"p":37,"h":1040,"v":923},{"p":37,"h":473,"v":951},{"p":38,"h":1016,"v":916},{"p":38,"h":466,"v":942},{"p":39,"h":993,"v":909},{"p":39,"h":458,"v":934},
{"p":41,"h":150,"v":60},{"p":41,"h":158,"v":500},{"p":41,"h":185,"v":760},{"p":41,"h":240,"v":870},{"p":41,"h":330,"v":905},{"p":41,"h":450,"v":925},
{"p":42,"h":152,"v":300},{"p":42,"h":165,"v":640},{"p":42,"h":195,"v":790},{"p":42,"h":250,"v":890},{"p":42,"h":330,"v":950},{"p":42,"h":420,"v":1000},
{"p":43,"h":200,"v":860},{"p":43,"h":260,"v":880},{"p":43,"h":320,"v":905},{"p":44,"h":225,"v":930},{"p":44,"h":290,"v":930},{"p":44,"h":380,"v":940},{"p":45,"h":150,"v":60},{"p":45,"h":153,"v":400},{"p":45,"h":162,"v":640},{"p":45,"h":180,"v":780},{"p":45,"h":205,"v":880},{"p":45,"h":250,"v":960},{"p":45,"h":320,"v":1010},{"p":45,"h":607,"v":1100}
]},"mark":{"type":"line","stroke":"#77778a","strokeWidth":2,"opacity":0.7,"interpolate":"cardinal","tension":0.5},"encoding":{"detail":{"field":"p","type":"nominal"},"order":{"value":null}}},
{"data":{"values":[{"h":625,"v":193,"h2":607,"v2":1103},{"h":622,"v":282,"h2":590,"v2":282},{"h":618,"v":487,"h2":585,"v2":487},{"h":613,"v":692,"h2":580,"v2":692},{"h":610,"v":898,"h2":575,"v2":898},{"h":607,"v":1103,"h2":575,"v2":1103},{"h":624,"v":213,"h2":606,"v2":213},{"h":621,"v":350,"h2":603,"v2":350},{"h":620,"v":418,"h2":602,"v2":418},{"h":617,"v":555,"h2":599,"v2":555},{"h":616,"v":623,"h2":598,"v2":623},{"h":613,"v":760,"h2":595,"v2":760},{"h":612,"v":830,"h2":594,"v2":830},{"h":609,"v":965,"h2":591,"v2":965},{"h":608,"v":1035,"h2":590,"v2":1035},{"h":133,"v":965,"h2":607,"v2":1103},{"h":165,"v":975,"h2":165,"v2":1010},{"h":353,"v":1030,"h2":353,"v2":1067},{"h":541,"v":1085,"h2":541,"v2":1122},{"h":607,"v":1103,"h2":1443,"v2":1040},{"h":785,"v":1090,"h2":785,"v2":1128},{"h":1005,"v":1075,"h2":1005,"v2":1110},{"h":1225,"v":1058,"h2":1225,"v2":1095},{"h":1443,"v":1040,"h2":1443,"v2":1078}]},
"mark":{"type":"rule","color":"black","strokeWidth":3},"encoding":{"x2":{"field":"h2"},"y2":{"field":"v2"}}},
{"data":{"values":[{"t":"200","h":515,"v":295},{"t":"150","h":518,"v":500},{"t":"100","h":512,"v":705},{"t":"50","h":530,"v":912},{"t":"0","h":547,"v":1118},{"t":"0.8","h":163,"v":1070},{"t":"0.5","h":352,"v":1125},{"t":"0.2","h":540,"v":1180},{"t":"0.5","h":780,"v":1185},{"t":"1","h":1003,"v":1170},{"t":"1.5","h":1225,"v":1155},{"t":"2","h":1442,"v":1140},{"t":"D","h":367,"v":1275}]},"mark":{"type":"text"},"encoding":{"text":{"field":"t"}}},
{"data":{"values":[{"t":"q","h":1022,"v":1330}]},"mark":{"type":"text","fontStyle":"italic"},"encoding":{"text":{"field":"t"}}},
{"data":{"values":[{"t":"(d)","h":778,"v":1520}]},"mark":{"type":"text","fontWeight":"bold","fontSize":70},"encoding":{"text":{"field":"t"}}}
]},
{"width":423,"height":1320,
"encoding":{"x":{"field":"h","type":"quantitative","scale":{"domain":[1140.4,1743.4]},"axis":null},"y":{"field":"v","type":"quantitative","scale":{"domain":[1799.8,0]},"axis":null}},
"layer":[
{"data":{"values":[
{"p":"f","h":95,"v":988},{"p":"f","h":470,"v":945},{"p":"f","h":510,"v":940},{"p":"f","h":680,"v":925},{"p":"f","h":640,"v":1000},{"p":"f","h":560,"v":1050},{"p":"f","h":470,"v":1060},{"p":"f","h":300,"v":1030}
]},"mark":{"type":"line","strokeWidth":0,"stroke":"transparent","fill":"#55567a"},"encoding":{"order":{"value":null}}},
{"data":{"values":[
{"p":"a","h":752,"v":505},{"p":"a","h":1133,"v":437},{"p":"a","h":1133,"v":520},{"p":"a","h":1125,"v":640},{"p":"a","h":1095,"v":780},{"p":"a","h":1050,"v":900},{"p":"a","h":985,"v":1000},{"p":"a","h":740,"v":1035},{"p":"a","h":590,"v":1045},{"p":"a","h":650,"v":990},{"p":"a","h":690,"v":900},{"p":"a","h":720,"v":780},{"p":"a","h":738,"v":620},
{"p":"b","h":1168,"v":425},{"p":"b","h":1320,"v":380},{"p":"b","h":1450,"v":300},{"p":"b","h":1510,"v":200},{"p":"b","h":1555,"v":80},{"p":"b","h":1540,"v":200},{"p":"b","h":1520,"v":310},{"p":"b","h":1490,"v":440},{"p":"b","h":1450,"v":600},{"p":"b","h":1400,"v":730},{"p":"b","h":1340,"v":850},{"p":"b","h":1290,"v":915},{"p":"b","h":1250,"v":945},{"p":"b","h":1100,"v":990},{"p":"b","h":995,"v":1005},{"p":"b","h":1075,"v":900},{"p":"b","h":1125,"v":780},{"p":"b","h":1150,"v":640},{"p":"b","h":1167,"v":500}
]},"mark":{"type":"line","strokeWidth":0,"stroke":"transparent","fill":{"gradient":"linear","x1":0,"y1":0,"x2":0,"y2":1,"stops":[{"offset":0,"color":"#dfe1f8"},{"offset":0.6,"color":"#d8daf5"},{"offset":0.85,"color":"#c0c2e6"},{"offset":1,"color":"#8f91bd"}]}},"encoding":{"detail":{"field":"p","type":"nominal"},"order":{"value":null}}},
{"data":{"values":[
{"p":"s","h":1555,"v":80},{"p":"s","h":1510,"v":200},{"p":"s","h":1490,"v":290},{"p":"s","h":1460,"v":450},{"p":"s","h":1420,"v":590},{"p":"s","h":1370,"v":710},{"p":"s","h":1310,"v":840},{"p":"s","h":1260,"v":920},{"p":"s","h":1230,"v":940},{"p":"s","h":1250,"v":945},{"p":"s","h":1290,"v":915},{"p":"s","h":1340,"v":850},{"p":"s","h":1400,"v":730},{"p":"s","h":1450,"v":600},{"p":"s","h":1490,"v":440},{"p":"s","h":1520,"v":310},{"p":"s","h":1540,"v":200},
{"p":"t","h":1133,"v":437},{"p":"t","h":1133,"v":520},{"p":"t","h":1125,"v":640},{"p":"t","h":1095,"v":780},{"p":"t","h":1050,"v":900},{"p":"t","h":985,"v":1000},{"p":"t","h":1030,"v":910},{"p":"t","h":1075,"v":800},{"p":"t","h":1105,"v":650},{"p":"t","h":1118,"v":520},{"p":"t","h":1118,"v":445}
]},"mark":{"type":"line","strokeWidth":0,"stroke":"transparent"},"encoding":{"fill":{"field":"p","type":"nominal","scale":{"domain":["s","t"],"range":["#a9abd6","#9a9bc0"]},"legend":null},"order":{"value":null}}},
{"data":{"values":[
{"p":1,"h":787,"v":499},{"p":1,"h":773,"v":634},{"p":1,"h":754,"v":779},{"p":1,"h":723,"v":895},{"p":1,"h":680,"v":986},{"p":1,"h":626,"v":1040},
{"p":2,"h":821,"v":493},{"p":2,"h":808,"v":628},{"p":2,"h":788,"v":773},{"p":2,"h":756,"v":890},{"p":2,"h":710,"v":982},{"p":2,"h":662,"v":1035},
{"p":3,"h":856,"v":486},{"p":3,"h":843,"v":622},{"p":3,"h":822,"v":767},{"p":3,"h":789,"v":885},{"p":3,"h":740,"v":978},{"p":3,"h":698,"v":1030},
{"p":4,"h":890,"v":480},{"p":4,"h":878,"v":616},{"p":4,"h":856,"v":761},{"p":4,"h":822,"v":880},{"p":4,"h":770,"v":974},{"p":4,"h":734,"v":1025},
{"p":5,"h":925,"v":474},{"p":5,"h":913,"v":610},{"p":5,"h":890,"v":755},{"p":5,"h":855,"v":875},{"p":5,"h":800,"v":970},{"p":5,"h":770,"v":1020},
{"p":6,"h":960,"v":468},{"p":6,"h":948,"v":604},{"p":6,"h":924,"v":749},{"p":6,"h":888,"v":870},{"p":6,"h":830,"v":966},{"p":6,"h":806,"v":1015},
{"p":7,"h":994,"v":462},{"p":7,"h":983,"v":598},{"p":7,"h":958,"v":743},{"p":7,"h":921,"v":865},{"p":7,"h":860,"v":962},{"p":7,"h":842,"v":1010},
{"p":8,"h":1029,"v":455},{"p":8,"h":1018,"v":592},{"p":8,"h":992,"v":737},{"p":8,"h":954,"v":860},{"p":8,"h":890,"v":958},{"p":8,"h":878,"v":1005},
{"p":9,"h":1063,"v":449},{"p":9,"h":1053,"v":586},{"p":9,"h":1026,"v":731},{"p":9,"h":987,"v":855},{"p":9,"h":920,"v":954},{"p":9,"h":914,"v":1003},
{"p":10,"h":1098,"v":443},{"p":10,"h":1088,"v":580},{"p":10,"h":1060,"v":725},{"p":10,"h":1020,"v":850},{"p":10,"h":950,"v":950},{"p":10,"h":950,"v":1000},
{"p":11,"h":1205,"v":418},{"p":11,"h":1182,"v":650},{"p":11,"h":1105,"v":892},{"p":11,"h":1020,"v":999},
{"p":12,"h":1240,"v":405},{"p":12,"h":1212,"v":650},{"p":12,"h":1132,"v":884},{"p":12,"h":1045,"v":993},
{"p":13,"h":1280,"v":392},{"p":13,"h":1245,"v":650},{"p":13,"h":1165,"v":875},{"p":13,"h":1075,"v":986},
{"p":14,"h":1315,"v":380},{"p":14,"h":1275,"v":650},{"p":14,"h":1193,"v":867},{"p":14,"h":1100,"v":980},
{"p":15,"h":1350,"v":362},{"p":15,"h":1305,"v":650},{"p":15,"h":1220,"v":859},{"p":15,"h":1125,"v":974},
{"p":16,"h":1385,"v":345},{"p":16,"h":1335,"v":650},{"p":16,"h":1247,"v":851},{"p":16,"h":1150,"v":968},
{"p":17,"h":1420,"v":322},{"p":17,"h":1365,"v":650},{"p":17,"h":1275,"v":843},{"p":17,"h":1175,"v":962},
{"p":18,"h":1455,"v":290},{"p":18,"h":1395,"v":650},{"p":18,"h":1302,"v":835},{"p":18,"h":1201,"v":956},
{"p":19,"h":1490,"v":245},{"p":19,"h":1425,"v":650},{"p":19,"h":1330,"v":827},{"p":19,"h":1227,"v":950},
{"p":20,"h":728,"v":785},{"p":20,"h":900,"v":755},{"p":20,"h":1105,"v":705},
{"p":21,"h":700,"v":880},{"p":21,"h":880,"v":860},{"p":21,"h":1070,"v":815},
{"p":22,"h":675,"v":940},{"p":22,"h":850,"v":925},{"p":22,"h":1030,"v":880},
{"p":23,"h":650,"v":985},{"p":23,"h":820,"v":975},{"p":23,"h":1000,"v":945},
{"p":24,"h":615,"v":1020},{"p":24,"h":800,"v":1015},{"p":24,"h":985,"v":990},
{"p":25,"h":1142,"v":700},{"p":25,"h":1300,"v":650},{"p":25,"h":1450,"v":540},
{"p":26,"h":1105,"v":810},{"p":26,"h":1250,"v":780},{"p":26,"h":1385,"v":720},
{"p":27,"h":1065,"v":880},{"p":27,"h":1200,"v":860},{"p":27,"h":1340,"v":800},
{"p":28,"h":1030,"v":935},{"p":28,"h":1150,"v":920},{"p":28,"h":1300,"v":870},
{"p":29,"h":995,"v":1000},{"p":29,"h":1100,"v":985},{"p":29,"h":1270,"v":935}
]},"mark":{"type":"line","stroke":"#4f4f66","strokeWidth":2,"opacity":0.6,"interpolate":"cardinal","tension":0.5},"encoding":{"detail":{"field":"p","type":"nominal"},"order":{"value":null}}},
{"data":{"values":[{"h":758,"v":163,"h2":737,"v2":1130},{"h":755,"v":313,"h2":725,"v2":313},{"h":751,"v":477,"h2":720,"v2":477},{"h":748,"v":642,"h2":716,"v2":642},{"h":744,"v":805,"h2":712,"v2":805},{"h":741,"v":970,"h2":707,"v2":970},{"h":737,"v":1130,"h2":705,"v2":1130},{"h":757,"v":203,"h2":739,"v2":203},{"h":756,"v":258,"h2":738,"v2":258},{"h":754,"v":368,"h2":736,"v2":368},{"h":753,"v":423,"h2":735,"v2":423},{"h":750,"v":532,"h2":732,"v2":532},{"h":749,"v":587,"h2":731,"v2":587},{"h":747,"v":697,"h2":729,"v2":697},{"h":746,"v":752,"h2":728,"v2":752},{"h":743,"v":860,"h2":725,"v2":860},{"h":742,"v":915,"h2":724,"v2":915},{"h":740,"v":1025,"h2":722,"v2":1025},{"h":738,"v":1078,"h2":720,"v2":1078},{"h":95,"v":988,"h2":737,"v2":1130},{"h":175,"v":1005,"h2":175,"v2":1043},{"h":414,"v":1058,"h2":414,"v2":1095},{"h":652,"v":1112,"h2":652,"v2":1150},{"h":737,"v":1130,"h2":1533,"v2":1040},{"h":915,"v":1110,"h2":915,"v2":1148},{"h":1135,"v":1087,"h2":1135,"v2":1125},{"h":1357,"v":1062,"h2":1357,"v2":1100}]},
"mark":{"type":"rule","color":"black","strokeWidth":3},"encoding":{"x2":{"field":"h2"},"y2":{"field":"v2"}}},
{"data":{"values":[{"t":"25","h":678,"v":330},{"t":"20","h":675,"v":495},{"t":"15","h":675,"v":655},{"t":"10","h":672,"v":820},{"t":"5","h":685,"v":985},{"t":"0","h":675,"v":1147},{"t":"0.8","h":172,"v":1100},{"t":"0.5","h":410,"v":1150},{"t":"0.2","h":653,"v":1205},{"t":"0.5","h":908,"v":1200},{"t":"1","h":1133,"v":1178},{"t":"1.5","h":1355,"v":1155},{"t":"D","h":411,"v":1280}]},"mark":{"type":"text"},"encoding":{"text":{"field":"t"}}},
{"data":{"values":[{"t":"q","h":1132,"v":1320}]},"mark":{"type":"text","fontStyle":"italic"},"encoding":{"text":{"field":"t"}}},
{"data":{"values":[{"t":"(e)","h":842,"v":1520}]},"mark":{"type":"text","fontWeight":"bold","fontSize":70},"encoding":{"text":{"field":"t"}}}
]},
{"width":1150,"height":1171,
"encoding":{"x":{"field":"h","type":"quantitative","scale":{"domain":[0,1639.3]},"axis":null},"y":{"field":"v","type":"quantitative","scale":{"domain":[1596.7,0]},"axis":null}},
"layer":[
{"data":{"values":[
{"p":"l","h":50,"v":493},{"p":"l","h":90,"v":350},{"p":"l","h":130,"v":200},{"p":"l","h":175,"v":85},{"p":"l","h":205,"v":62},{"p":"l","h":240,"v":90},{"p":"l","h":300,"v":240},{"p":"l","h":360,"v":400},{"p":"l","h":385,"v":477},
{"p":"r","h":700,"v":115},{"p":"r","h":800,"v":150},{"p":"r","h":900,"v":205},{"p":"r","h":1045,"v":255},{"p":"r","h":1060,"v":300},{"p":"r","h":1080,"v":430},{"p":"r","h":1105,"v":640},{"p":"r","h":980,"v":650},{"p":"r","h":970,"v":665},{"p":"r","h":950,"v":650},{"p":"r","h":910,"v":480},{"p":"r","h":870,"v":320},{"p":"r","h":830,"v":210},{"p":"r","h":770,"v":150},
{"p":"d","h":895,"v":655},{"p":"d","h":985,"v":648},{"p":"d","h":1220,"v":635},{"p":"d","h":1200,"v":680},{"p":"d","h":1170,"v":800},{"p":"d","h":1145,"v":990},{"p":"d","h":1100,"v":988},{"p":"d","h":1040,"v":975},{"p":"d","h":960,"v":930},{"p":"d","h":925,"v":860},{"p":"d","h":905,"v":750},
{"p":"e","h":895,"v":655},{"p":"e","h":955,"v":660},{"p":"e","h":975,"v":660},{"p":"e","h":950,"v":780},{"p":"e","h":930,"v":830},{"p":"e","h":905,"v":750},
{"p":"g","h":1220,"v":635},{"p":"g","h":1260,"v":602},{"p":"g","h":1300,"v":600},{"p":"g","h":1420,"v":622},{"p":"g","h":1205,"v":635}
]},"mark":{"type":"line","strokeWidth":0,"stroke":"transparent"},"encoding":{"fill":{"field":"p","type":"nominal","scale":{"domain":["l","r","d","e","g"],"range":["#5e5f80","#6a6b90","#5c5d80","#8d8fbc","#a7a9d0"]},"legend":null},"order":{"value":null}}},
{"data":{"values":[
{"h":205,"v":62},{"h":350,"v":60},{"h":500,"v":68},{"h":620,"v":85},{"h":700,"v":115},{"h":770,"v":150},{"h":830,"v":210},{"h":870,"v":320},{"h":910,"v":480},{"h":950,"v":650},{"h":800,"v":655},{"h":520,"v":675},{"h":460,"v":640},{"h":420,"v":560},{"h":385,"v":477},{"h":340,"v":350},{"h":290,"v":210},{"h":240,"v":100}
]},"mark":{"type":"line","strokeWidth":0,"stroke":"transparent","fill":{"gradient":"linear","x1":0,"y1":0,"x2":1,"y2":0,"stops":[{"offset":0,"color":"#c4c5ec"},{"offset":0.4,"color":"#e3e4fb"},{"offset":0.75,"color":"#ffffff"},{"offset":1,"color":"#f5f5ff"}]}},"encoding":{"order":{"value":null}}},
{"data":{"values":[
{"p":1,"h":250,"v":64},{"p":1,"h":332,"v":209},{"p":1,"h":382,"v":350},{"p":1,"h":425,"v":477},{"p":1,"h":468,"v":570},{"p":1,"h":556,"v":673},
{"p":2,"h":295,"v":66},{"p":2,"h":374,"v":208},{"p":2,"h":424,"v":350},{"p":2,"h":465,"v":477},{"p":2,"h":506,"v":570},{"p":2,"h":592,"v":671},
{"p":3,"h":340,"v":68},{"p":3,"h":416,"v":207},{"p":3,"h":466,"v":350},{"p":3,"h":505,"v":477},{"p":3,"h":544,"v":570},{"p":3,"h":628,"v":669},
{"p":4,"h":385,"v":70},{"p":4,"h":458,"v":206},{"p":4,"h":508,"v":350},{"p":4,"h":545,"v":477},{"p":4,"h":582,"v":570},{"p":4,"h":664,"v":667},
{"p":5,"h":430,"v":72},{"p":5,"h":500,"v":205},{"p":5,"h":550,"v":350},{"p":5,"h":585,"v":477},{"p":5,"h":620,"v":570},{"p":5,"h":700,"v":665},
{"p":6,"h":475,"v":74},{"p":6,"h":542,"v":204},{"p":6,"h":592,"v":350},{"p":6,"h":625,"v":477},{"p":6,"h":658,"v":570},{"p":6,"h":736,"v":663},
{"p":7,"h":520,"v":76},{"p":7,"h":584,"v":203},{"p":7,"h":634,"v":350},{"p":7,"h":665,"v":477},{"p":7,"h":696,"v":570},{"p":7,"h":772,"v":661},
{"p":8,"h":565,"v":78},{"p":8,"h":626,"v":202},{"p":8,"h":676,"v":350},{"p":8,"h":705,"v":477},{"p":8,"h":734,"v":570},{"p":8,"h":808,"v":659},
{"p":9,"h":610,"v":80},{"p":9,"h":668,"v":201},{"p":9,"h":718,"v":350},{"p":9,"h":745,"v":477},{"p":9,"h":772,"v":570},{"p":9,"h":844,"v":657},
{"p":10,"h":655,"v":82},{"p":10,"h":710,"v":200},{"p":10,"h":760,"v":350},{"p":10,"h":785,"v":477},{"p":10,"h":810,"v":570},{"p":10,"h":880,"v":655},
{"p":11,"h":240,"v":100},{"p":11,"h":450,"v":105},{"p":11,"h":650,"v":120},{"p":11,"h":790,"v":175},
{"p":12,"h":290,"v":200},{"p":12,"h":480,"v":170},{"p":12,"h":680,"v":170},{"p":12,"h":840,"v":230},
{"p":13,"h":315,"v":270},{"p":13,"h":500,"v":240},{"p":13,"h":700,"v":230},{"p":13,"h":855,"v":280},
{"p":14,"h":340,"v":350},{"p":14,"h":520,"v":300},{"p":14,"h":720,"v":280},{"p":14,"h":880,"v":340},
{"p":15,"h":365,"v":420},{"p":15,"h":530,"v":370},{"p":15,"h":740,"v":330},{"p":15,"h":895,"v":410},
{"p":16,"h":385,"v":477},{"p":16,"h":540,"v":440},{"p":16,"h":760,"v":380},{"p":16,"h":905,"v":470},
{"p":17,"h":405,"v":530},{"p":17,"h":560,"v":500},{"p":17,"h":780,"v":430},{"p":17,"h":915,"v":510},
{"p":18,"h":425,"v":575},{"p":18,"h":580,"v":555},{"p":18,"h":800,"v":490},{"p":18,"h":925,"v":570},
{"p":19,"h":450,"v":625},{"p":19,"h":600,"v":610},{"p":19,"h":820,"v":560},{"p":19,"h":940,"v":620},
{"p":20,"h":485,"v":660},{"p":20,"h":640,"v":650},{"p":20,"h":850,"v":625},{"p":20,"h":950,"v":650},
{"p":21,"h":175,"v":85},{"p":21,"h":100,"v":490},{"p":22,"h":205,"v":62},{"p":22,"h":165,"v":487},{"p":23,"h":235,"v":85},{"p":23,"h":230,"v":485},{"p":24,"h":270,"v":170},{"p":24,"h":295,"v":482},
{"p":25,"h":135,"v":185},{"p":25,"h":265,"v":185},{"p":26,"h":115,"v":260},{"p":26,"h":295,"v":260},{"p":27,"h":95,"v":335},{"p":27,"h":330,"v":335},{"p":28,"h":75,"v":410},{"p":28,"h":360,"v":410},
{"p":29,"h":830,"v":170},{"p":29,"h":880,"v":300},{"p":29,"h":950,"v":500},{"p":29,"h":1000,"v":640},
{"p":30,"h":900,"v":205},{"p":30,"h":940,"v":330},{"p":30,"h":990,"v":520},{"p":30,"h":1020,"v":640},
{"p":31,"h":950,"v":225},{"p":31,"h":990,"v":350},{"p":31,"h":1020,"v":520},{"p":31,"h":1050,"v":640},
{"p":32,"h":1000,"v":240},{"p":32,"h":1030,"v":360},{"p":32,"h":1055,"v":520},{"p":32,"h":1080,"v":640},
{"p":33,"h":830,"v":250},{"p":33,"h":950,"v":300},{"p":33,"h":1060,"v":300},
{"p":34,"h":870,"v":340},{"p":34,"h":1000,"v":400},{"p":34,"h":1075,"v":400},
{"p":35,"h":920,"v":480},{"p":35,"h":1010,"v":560},{"p":35,"h":1090,"v":520},
{"p":36,"h":985,"v":655},{"p":36,"h":1030,"v":760},{"p":36,"h":1100,"v":985},
{"p":37,"h":1040,"v":650},{"p":37,"h":1060,"v":780},{"p":37,"h":1130,"v":990},
{"p":38,"h":1100,"v":645},{"p":38,"h":1100,"v":790},{"p":38,"h":1145,"v":990},
{"p":39,"h":1160,"v":640},{"p":39,"h":1130,"v":790},{"p":39,"h":1145,"v":985},
{"p":40,"h":1190,"v":640},{"p":40,"h":1000,"v":760},{"p":40,"h":950,"v":830},
{"p":41,"h":1200,"v":680},{"p":41,"h":1040,"v":830},{"p":41,"h":980,"v":945},
{"p":42,"h":1180,"v":760},{"p":42,"h":1080,"v":880},{"p":42,"h":1040,"v":975}
]},"mark":{"type":"line","stroke":"#3f3f58","strokeWidth":2,"opacity":0.55,"interpolate":"cardinal","tension":0.5},"encoding":{"detail":{"field":"p","type":"nominal"},"order":{"value":null}}},
{"data":{"values":[{"h":520,"v":125,"h2":520,"v2":1103},{"h":520,"v":160,"h2":483,"v2":160},{"h":520,"v":337,"h2":483,"v2":337},{"h":520,"v":515,"h2":483,"v2":515},{"h":520,"v":695,"h2":483,"v2":695},{"h":520,"v":875,"h2":483,"v2":875},{"h":520,"v":1055,"h2":483,"v2":1055},{"h":520,"v":195,"h2":502,"v2":195},{"h":520,"v":230,"h2":502,"v2":230},{"h":520,"v":265,"h2":502,"v2":265},{"h":520,"v":300,"h2":502,"v2":300},{"h":520,"v":373,"h2":502,"v2":373},{"h":520,"v":408,"h2":502,"v2":408},{"h":520,"v":444,"h2":502,"v2":444},{"h":520,"v":480,"h2":502,"v2":480},{"h":520,"v":551,"h2":502,"v2":551},{"h":520,"v":587,"h2":502,"v2":587},{"h":520,"v":623,"h2":502,"v2":623},{"h":520,"v":659,"h2":502,"v2":659},{"h":520,"v":730,"h2":502,"v2":730},{"h":520,"v":765,"h2":502,"v2":765},{"h":520,"v":802,"h2":502,"v2":802},{"h":520,"v":838,"h2":502,"v2":838},{"h":520,"v":910,"h2":502,"v2":910},{"h":520,"v":947,"h2":502,"v2":947},{"h":520,"v":983,"h2":502,"v2":983},{"h":520,"v":1018,"h2":502,"v2":1018},{"h":520,"v":1090,"h2":502,"v2":1090},{"h":50,"v":1005,"h2":520,"v2":1103},{"h":130,"v":1022,"h2":130,"v2":1060},{"h":278,"v":1055,"h2":278,"v2":1092},{"h":427,"v":1085,"h2":427,"v2":1122},{"h":520,"v":1103,"h2":1432,"v2":1052},{"h":745,"v":1090,"h2":745,"v2":1128},{"h":975,"v":1077,"h2":975,"v2":1115},{"h":1203,"v":1065,"h2":1203,"v2":1103},{"h":1432,"v":1052,"h2":1432,"v2":1090}]},
"mark":{"type":"rule","color":"black","strokeWidth":3},"encoding":{"x2":{"field":"h2"},"y2":{"field":"v2"}}},
{"data":{"values":[{"t":"120","h":420,"v":170},{"t":"115","h":418,"v":350},{"t":"110","h":418,"v":530},{"t":"105","h":418,"v":707},{"t":"100","h":418,"v":888},{"t":"95","h":437,"v":1068},{"t":"0.8","h":128,"v":1115},{"t":"0.5","h":277,"v":1145},{"t":"0.2","h":425,"v":1178},{"t":"0.5","h":745,"v":1185},{"t":"1","h":975,"v":1170},{"t":"1.5","h":1205,"v":1160},{"t":"2","h":1430,"v":1148},{"t":"D","h":287,"v":1275}]},"mark":{"type":"text"},"encoding":{"text":{"field":"t"}}},
{"data":{"values":[{"t":"q","h":977,"v":1315}]},"mark":{"type":"text","fontStyle":"italic"},"encoding":{"text":{"field":"t"}}},
{"data":{"values":[{"t":"(f)","h":728,"v":1515}]},"mark":{"type":"text","fontWeight":"bold","fontSize":70},"encoding":{"text":{"field":"t"}}}
]},
{"width":2100,"height":1171,
"encoding":{"x":{"field":"q","type":"quantitative","scale":{"domain":[-0.35714,2.6549]},"axis":{"title":"q","orient":"bottom","offset":-334,"domain":false,"grid":false,"values":[0,0.1,0.2,0.3,0.4,0.5,0.6,0.7,0.8,0.9,1,1.1,1.2,1.3,1.4,1.5,1.6,1.7,1.8,1.9,2,2.1,2.2,2.3,2.4,2.5],"labelExpr":"abs(datum.value*2-round(datum.value*2))<0.001 ? ''+datum.value : ''","tickSize":{"condition":{"test":"abs(datum.value*2-round(datum.value*2))<0.001","value":18},"value":10},"tickColor":"black","tickWidth":3,"labelColor":"black","labelFontSize":70,"labelPadding":18,"labelOverlap":false,"labelFlush":false,"labelBound":false,"titleFontSize":74,"titleFontWeight":"normal","titleColor":"black","titleX":1120,"titleY":122}},
"y":{"field":"v","type":"quantitative","scale":{"domain":[-0.48902,1.22548]},"axis":{"title":"Components","orient":"left","offset":-249,"domain":false,"grid":false,"values":[0,0.1,0.2,0.3,0.4,0.5,0.6,0.7,0.8,0.9,1],"labelExpr":"abs(datum.value*5-round(datum.value*5))<0.001 ? ''+datum.value : ''","tickSize":{"condition":{"test":"abs(datum.value*5-round(datum.value*5))<0.001","value":18},"value":10},"tickColor":"black","tickWidth":3,"labelColor":"black","labelFontSize":70,"labelPadding":12,"labelOverlap":false,"labelBound":false,"titleFontSize":68,"titleFontWeight":"normal","titleColor":"black","titleX":-134,"titleY":494}}},
"layer":[
{"data":{"values":[{"q":0,"v":0,"q2":2.5,"v2":0},{"q":0,"v":0,"q2":0,"v2":1}]},"mark":{"type":"rule","color":"black","strokeWidth":3},"encoding":{"x2":{"field":"q2"},"y2":{"field":"v2"}}},
{"data":{"name":"gdata","values":[
{"s":"R","q":0.039,"v":0.635},{"s":"R","q":0.081,"v":0.635},{"s":"R","q":0.12,"v":0.634},{"s":"R","q":0.162,"v":0.635},{"s":"R","q":0.245,"v":0.636},{"s":"R","q":0.326,"v":0.64},{"s":"R","q":0.409,"v":0.647},{"s":"R","q":0.489,"v":0.655},{"s":"R","q":0.57,"v":0.663},{"s":"R","q":0.651,"v":0.674},{"s":"R","q":0.734,"v":0.685},{"s":"R","q":0.815,"v":0.7},{"s":"R","q":0.896,"v":0.715},{"s":"R","q":0.979,"v":0.733},{"s":"R","q":1.06,"v":0.754},{"s":"R","q":1.14,"v":0.778},{"s":"R","q":1.224,"v":0.805},{"s":"R","q":1.304,"v":0.839},{"s":"R","q":1.378,"v":0.868},{"s":"R","q":1.454,"v":0.9},{"s":"R","q":1.528,"v":0.934},{"s":"R","q":1.602,"v":0.964},{"s":"R","q":1.676,"v":0.989},{"s":"R","q":1.752,"v":1},{"s":"R","q":1.794,"v":0.996},{"s":"R","q":1.833,"v":0.982},{"s":"R","q":1.865,"v":0.958},{"s":"R","q":1.902,"v":0.929},{"s":"R","q":1.939,"v":0.887},{"s":"R","q":1.976,"v":0.832},{"s":"R","q":2.013,"v":0.762},{"s":"R","q":2.05,"v":0.691},{"s":"R","q":2.087,"v":0.613},{"s":"R","q":2.124,"v":0.533},{"s":"R","q":2.161,"v":0.457},{"s":"R","q":2.198,"v":0.381},{"s":"R","q":2.235,"v":0.309},{"s":"R","q":2.271,"v":0.25},{"s":"R","q":2.311,"v":0.198},{"s":"R","q":2.348,"v":0.156},{"s":"R","q":2.385,"v":0.122},{"s":"R","q":2.421,"v":0.09},{"s":"R","q":2.458,"v":0.066},{"s":"R","q":2.495,"v":0.046},
{"s":"L","q":0.115,"v":1},{"s":"L","q":0.12,"v":0.665},{"s":"L","q":0.162,"v":0.374},{"s":"L","q":0.203,"v":0.24},{"s":"L","q":0.286,"v":0.122},{"s":"L","q":0.367,"v":0.073},{"s":"L","q":0.448,"v":0.049},{"s":"L","q":0.529,"v":0.036},{"s":"L","q":0.651,"v":0.022},{"s":"L","q":0.734,"v":0.018},{"s":"L","q":0.815,"v":0.015},{"s":"L","q":0.896,"v":0.013},{"s":"L","q":0.979,"v":0.011},{"s":"L","q":1.06,"v":0.01},{"s":"L","q":1.14,"v":0.009},{"s":"L","q":1.224,"v":0.008},{"s":"L","q":1.304,"v":0.007},{"s":"L","q":1.378,"v":0.006},{"s":"L","q":1.454,"v":0.005},{"s":"L","q":1.528,"v":0.004},{"s":"L","q":1.602,"v":0.004},{"s":"L","q":1.676,"v":0.003},{"s":"L","q":1.752,"v":0.003},{"s":"L","q":1.826,"v":0.002},{"s":"L","q":1.902,"v":0.002},{"s":"L","q":1.976,"v":0.002},{"s":"L","q":2.05,"v":0.002},{"s":"L","q":2.124,"v":0.001},{"s":"L","q":2.198,"v":0.001},{"s":"L","q":2.271,"v":0.001},{"s":"L","q":2.348,"v":0.001},{"s":"L","q":2.421,"v":0.001},{"s":"L","q":2.495,"v":0.001},
{"s":"C","q":0.039,"v":0.179},{"s":"C","q":0.081,"v":0.179},{"s":"C","q":0.12,"v":0.179},{"s":"C","q":0.162,"v":0.18},{"s":"C","q":0.245,"v":0.181},{"s":"C","q":0.326,"v":0.182},{"s":"C","q":0.409,"v":0.185},{"s":"C","q":0.489,"v":0.186},{"s":"C","q":0.57,"v":0.188},{"s":"C","q":0.651,"v":0.191},{"s":"C","q":0.734,"v":0.194},{"s":"C","q":0.815,"v":0.197},{"s":"C","q":0.896,"v":0.202},{"s":"C","q":0.979,"v":0.207},{"s":"C","q":1.06,"v":0.213},{"s":"C","q":1.14,"v":0.219},{"s":"C","q":1.224,"v":0.224},{"s":"C","q":1.304,"v":0.234},{"s":"C","q":1.378,"v":0.242},{"s":"C","q":1.454,"v":0.251},{"s":"C","q":1.528,"v":0.263},{"s":"C","q":1.602,"v":0.275},{"s":"C","q":1.676,"v":0.291},{"s":"C","q":1.752,"v":0.307},{"s":"C","q":1.826,"v":0.327},{"s":"C","q":1.902,"v":0.35},{"s":"C","q":1.976,"v":0.38},{"s":"C","q":2.05,"v":0.415},{"s":"C","q":2.124,"v":0.457},{"s":"C","q":2.198,"v":0.51},{"s":"C","q":2.235,"v":0.545},{"s":"C","q":2.271,"v":0.582},{"s":"C","q":2.311,"v":0.625},{"s":"C","q":2.348,"v":0.675},{"s":"C","q":2.385,"v":0.735},{"s":"C","q":2.421,"v":0.805},{"s":"C","q":2.458,"v":0.893},{"s":"C","q":2.495,"v":1},
{"s":"E","q":0.046,"v":1},{"s":"E","q":0.12,"v":1},{"s":"E","q":0.162,"v":1},{"s":"E","q":0.245,"v":1},{"s":"E","q":0.326,"v":1},{"s":"E","q":0.409,"v":0.999},{"s":"E","q":0.489,"v":0.998},{"s":"E","q":0.57,"v":0.998},{"s":"E","q":0.651,"v":0.997},{"s":"E","q":0.734,"v":0.996},{"s":"E","q":0.815,"v":0.994},{"s":"E","q":0.896,"v":0.992},{"s":"E","q":0.979,"v":0.988},{"s":"E","q":1.06,"v":0.983},{"s":"E","q":1.14,"v":0.978},{"s":"E","q":1.224,"v":0.97},{"s":"E","q":1.304,"v":0.962},{"s":"E","q":1.33,"v":0.958},{"s":"E","q":1.378,"v":0.95},{"s":"E","q":1.42,"v":0.94},{"s":"E","q":1.454,"v":0.935},{"s":"E","q":1.49,"v":0.925},{"s":"E","q":1.528,"v":0.915},{"s":"E","q":1.565,"v":0.905},{"s":"E","q":1.602,"v":0.895},{"s":"E","q":1.64,"v":0.882},{"s":"E","q":1.676,"v":0.87},{"s":"E","q":1.714,"v":0.857},{"s":"E","q":1.752,"v":0.845},{"s":"E","q":1.79,"v":0.832},{"s":"E","q":1.826,"v":0.818},{"s":"E","q":1.865,"v":0.805},{"s":"E","q":1.902,"v":0.79},{"s":"E","q":1.939,"v":0.78},{"s":"E","q":1.976,"v":0.775},{"s":"E","q":2.013,"v":0.773},{"s":"E","q":2.05,"v":0.772},{"s":"E","q":2.087,"v":0.768},{"s":"E","q":2.124,"v":0.767},{"s":"E","q":2.161,"v":0.766},{"s":"E","q":2.198,"v":0.767},{"s":"E","q":2.235,"v":0.77},{"s":"E","q":2.271,"v":0.775},{"s":"E","q":2.311,"v":0.782},{"s":"E","q":2.348,"v":0.79},{"s":"E","q":2.385,"v":0.797},{"s":"E","q":2.421,"v":0.805},{"s":"E","q":2.458,"v":0.815},{"s":"E","q":2.495,"v":0.825},
{"s":"V","q":0,"v":0.934},{"s":"V","q":0.162,"v":0.939},{"s":"V","q":0.326,"v":0.942},{"s":"V","q":0.489,"v":0.948},{"s":"V","q":0.651,"v":0.952},{"s":"V","q":0.815,"v":0.955},{"s":"V","q":0.979,"v":0.959},{"s":"V","q":1.14,"v":0.963},{"s":"V","q":1.304,"v":0.966},{"s":"V","q":1.454,"v":0.972},{"s":"V","q":1.602,"v":0.976},{"s":"V","q":1.752,"v":0.98},{"s":"V","q":1.902,"v":0.983},{"s":"V","q":2.05,"v":0.989},{"s":"V","q":2.198,"v":0.992},{"s":"V","q":2.348,"v":0.997},{"s":"V","q":2.495,"v":1}
]},"mark":{"type":"line","strokeWidth":5,"interpolate":"monotone"},"encoding":{"stroke":{"field":"s","type":"nominal","sort":null,"scale":{"domain":["R","L","C","E","V"],"range":["#000000","#f987e5","#67a3f9","#b5b5b5","#78e27c"]},"legend":null}}},
{"data":{"name":"gdata"},"transform":[{"filter":"datum.s=='R'||datum.s=='C'||datum.s=='V'||datum.q>0.116"}],"mark":{"type":"point","filled":true,"size":700,"strokeWidth":4,"opacity":1},"encoding":{"fill":{"field":"s","type":"nominal","scale":{"domain":["R","L","C","E","V"],"range":["#000000","#f987e5","#67a3f9","#b5b5b5","#78e27c"]},"legend":null},"stroke":{"field":"s","type":"nominal","scale":{"domain":["R","L","C","E","V"],"range":["#000000","#f987e5","#67a3f9","#b5b5b5","#78e27c"]},"legend":null},"shape":{"field":"s","type":"nominal","scale":{"domain":["R","L","C","E","V"],"range":["M0,-1L0,1M-0.87,-0.5L0.87,0.5M-0.87,0.5L0.87,-0.5","square","circle","M-0.8,-0.8L0.8,0.8M-0.8,0.8L0.8,-0.8M-1,0L1,0","diamond"]},"legend":null}}},
{"data":{"values":[{"t":"(g)","q":1.466,"v":-0.41}]},"mark":{"type":"text","fontWeight":"bold","fontSize":70},"encoding":{"text":{"field":"t"}}}
]},
{"width":423,"height":1171,
"encoding":{"x":{"field":"h","type":"quantitative","scale":{"domain":[1305,1568]},"axis":null},"y":{"field":"v","type":"quantitative","scale":{"domain":[1569,-115]},"axis":null}},
"layer":[
{"data":{"values":[{"h":1290,"h2":1543,"v":90,"v2":1340}]},"mark":{"type":"rect","fill":"white","stroke":"black","strokeWidth":4},"encoding":{"x2":{"field":"h2"},"y2":{"field":"v2"}}},
{"data":{"values":[{"s":"R","h":1300,"h2":1340,"v":212},{"s":"L","h":1300,"h2":1340,"v":450},{"s":"C","h":1300,"h2":1340,"v":690},{"s":"E","h":1300,"h2":1340,"v":932},{"s":"V","h":1300,"h2":1340,"v":1188}]},"mark":{"type":"rule","strokeWidth":5},"encoding":{"x2":{"field":"h2"},"stroke":{"field":"s","type":"nominal","scale":{"domain":["R","L","C","E","V"],"range":["#000000","#f987e5","#67a3f9","#b5b5b5","#78e27c"]},"legend":null}}},
{"data":{"values":[{"s":"R","h":1320,"v":212},{"s":"L","h":1320,"v":450},{"s":"C","h":1320,"v":690},{"s":"E","h":1320,"v":932},{"s":"V","h":1320,"v":1188}]},"mark":{"type":"point","filled":true,"size":640,"strokeWidth":3,"opacity":1},"encoding":{"fill":{"field":"s","type":"nominal","scale":{"domain":["R","L","C","E","V"],"range":["#000000","#f987e5","#67a3f9","#b5b5b5","#78e27c"]},"legend":null},"stroke":{"field":"s","type":"nominal","scale":{"domain":["R","L","C","E","V"],"range":["#000000","#f987e5","#67a3f9","#b5b5b5","#78e27c"]},"legend":null},"shape":{"field":"s","type":"nominal","scale":{"domain":["R","L","C","E","V"],"range":["M0,-1L0,1M-0.87,-0.5L0.87,0.5M-0.87,0.5L0.87,-0.5","square","circle","M-0.8,-0.8L0.8,0.8M-0.8,0.8L0.8,-0.8M-1,0L1,0","diamond"]},"legend":null}}},
{"data":{"values":[{"h":1350,"h2":1405,"v":230},{"h":1350,"h2":1425,"v":468},{"h":1350,"h2":1428,"v":710},{"h":1350,"h2":1423,"v":952},{"h":1350,"h2":1467,"v":1225}]},"mark":{"type":"rule","color":"black","strokeWidth":3},"encoding":{"x2":{"field":"h2"}}},
{"data":{"values":[{"t":"R","h":1373,"v":150},{"t":"L","h":1370,"v":390},{"t":"C","h":1372,"v":628},{"t":"C","h":1382,"v":870},{"t":"V","h":1375,"v":1112}]},"mark":{"type":"text","fontStyle":"italic","fontSize":64},"encoding":{"text":{"field":"t"}}},
{"data":{"values":[{"t":"L","h":1388,"v":190},{"t":"SH","h":1400,"v":432},{"t":"SH","h":1403,"v":672},{"t":"e","h":1398,"v":920},{"t":"C","h":1395,"v":1155},{"t":"SHm","h":1430,"v":1190}]},"mark":{"type":"text","fontStyle":"italic","fontSize":46},"encoding":{"text":{"field":"t"}}},
{"data":{"values":[{"t":"4","h":1378,"v":285},{"t":"4","h":1388,"v":525},{"t":"314","h":1390,"v":770},{"t":"121","h":1387,"v":1012},{"t":"25","h":1407,"v":1282},{"t":"[Ω]","h":1450,"v":235},{"t":"[mH]","h":1482,"v":477},{"t":"[nF]","h":1480,"v":718},{"t":"[nF]","h":1474,"v":960},{"t":"[V]","h":1507,"v":1237}]},"mark":{"type":"text","fontSize":62},"encoding":{"text":{"field":"t"}}}
]}
]}
